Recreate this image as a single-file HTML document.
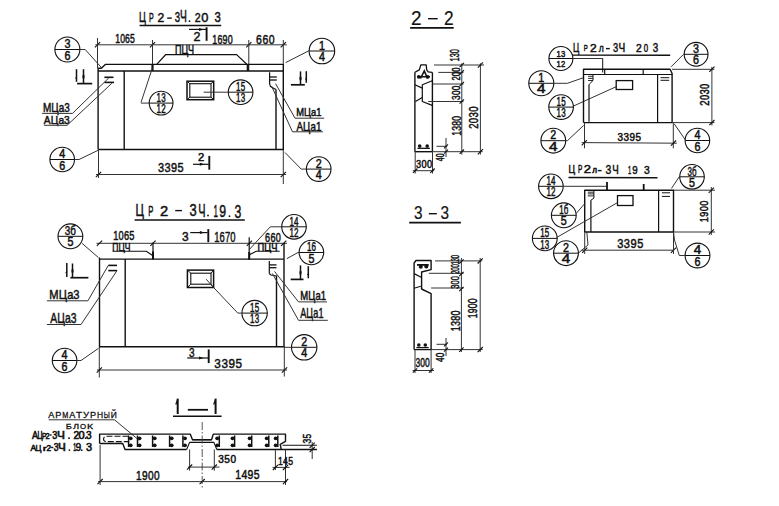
<!DOCTYPE html>
<html><head><meta charset="utf-8"><style>
html,body{margin:0;padding:0;background:#fff;}
svg{display:block;}
text{font-family:"Liberation Sans",sans-serif;}
</style></head><body>
<svg width="779" height="506" viewBox="0 0 779 506">
<rect width="779" height="506" fill="#fff"/>
<text x="138.92" y="21.50" font-size="14.49" font-weight="normal" textLength="6.86" lengthAdjust="spacingAndGlyphs" fill="#111" stroke="#111" stroke-width="0.5">Ц</text>
<text x="149.11" y="22.00" font-size="12.32" font-weight="normal" textLength="4.69" lengthAdjust="spacingAndGlyphs" fill="#111" stroke="#111" stroke-width="0.5">Р</text>
<text x="157.47" y="22.00" font-size="13.19" font-weight="normal" textLength="6.76" lengthAdjust="spacingAndGlyphs" fill="#111" stroke="#111" stroke-width="0.5">2</text>
<line x1="167.2" y1="18.1" x2="171.8" y2="18.1" stroke="#111" stroke-width="1.4"/>
<text x="174.69" y="22.00" font-size="15.22" font-weight="normal" textLength="5.32" lengthAdjust="spacingAndGlyphs" fill="#111" stroke="#111" stroke-width="0.5">3</text>
<text x="180.12" y="22.20" font-size="16.96" font-weight="normal" textLength="6.86" lengthAdjust="spacingAndGlyphs" fill="#111" stroke="#111" stroke-width="0.5">Ч</text>
<circle cx="189.5" cy="21.2" r="0.9" fill="#111"/>
<text x="194.76" y="21.80" font-size="13.48" font-weight="normal" textLength="5.88" lengthAdjust="spacingAndGlyphs" fill="#111" stroke="#111" stroke-width="0.5">2</text>
<text x="201.18" y="21.80" font-size="13.04" font-weight="normal" textLength="7.14" lengthAdjust="spacingAndGlyphs" fill="#111" stroke="#111" stroke-width="0.5">0</text>
<text x="214.60" y="21.80" font-size="14.93" font-weight="normal" textLength="6.29" lengthAdjust="spacingAndGlyphs" fill="#111" stroke="#111" stroke-width="0.5">3</text>
<line x1="139.6" y1="25.5" x2="221.2" y2="25.5" stroke="#111" stroke-width="1.6"/>
<line x1="189.0" y1="29.4" x2="206.6" y2="29.4" stroke="#111" stroke-width="1.2"/>
<line x1="206.6" y1="27.3" x2="206.6" y2="40.8" stroke="#111" stroke-width="1.9"/>
<polygon points="199.0,28.0 203.8,29.5 199.0,31.0" fill="#111"/>
<text x="193.57" y="40.80" font-size="13.19" font-weight="normal" textLength="6.96" lengthAdjust="spacingAndGlyphs" fill="#111" stroke="#111" stroke-width="0.5">2</text>
<line x1="95.4" y1="44.8" x2="286.8" y2="44.8" stroke="#333" stroke-width="1.0"/>
<line x1="94.9" y1="47.4" x2="100.1" y2="42.2" stroke="#111" stroke-width="1.1"/>
<line x1="149.9" y1="47.4" x2="155.1" y2="42.2" stroke="#111" stroke-width="1.1"/>
<line x1="246.2" y1="47.4" x2="251.4" y2="42.2" stroke="#111" stroke-width="1.1"/>
<line x1="280.7" y1="47.4" x2="285.9" y2="42.2" stroke="#111" stroke-width="1.1"/>
<line x1="97.5" y1="38.0" x2="97.5" y2="68.0" stroke="#333" stroke-width="1.0"/>
<line x1="152.5" y1="40.0" x2="152.5" y2="66.0" stroke="#333" stroke-width="1.0"/>
<line x1="248.8" y1="40.0" x2="248.8" y2="71.0" stroke="#333" stroke-width="1.0"/>
<line x1="283.3" y1="40.0" x2="283.3" y2="64.0" stroke="#333" stroke-width="1.0"/>
<text x="115.29" y="42.60" font-size="12.75" font-weight="normal" textLength="4.80" lengthAdjust="spacingAndGlyphs" fill="#111" stroke="#111" stroke-width="0.5">1</text>
<text x="120.20" y="42.60" font-size="12.75" font-weight="normal" textLength="4.80" lengthAdjust="spacingAndGlyphs" fill="#111" stroke="#111" stroke-width="0.5">0</text>
<text x="125.11" y="42.60" font-size="12.75" font-weight="normal" textLength="4.80" lengthAdjust="spacingAndGlyphs" fill="#111" stroke="#111" stroke-width="0.5">6</text>
<text x="130.01" y="42.60" font-size="12.75" font-weight="normal" textLength="4.80" lengthAdjust="spacingAndGlyphs" fill="#111" stroke="#111" stroke-width="0.5">5</text>
<text x="212.30" y="43.50" font-size="12.61" font-weight="normal" textLength="4.97" lengthAdjust="spacingAndGlyphs" fill="#111" stroke="#111" stroke-width="0.5">1</text>
<text x="217.44" y="43.50" font-size="12.61" font-weight="normal" textLength="4.97" lengthAdjust="spacingAndGlyphs" fill="#111" stroke="#111" stroke-width="0.5">6</text>
<text x="222.59" y="43.50" font-size="12.61" font-weight="normal" textLength="4.97" lengthAdjust="spacingAndGlyphs" fill="#111" stroke="#111" stroke-width="0.5">9</text>
<text x="227.74" y="43.50" font-size="12.61" font-weight="normal" textLength="4.97" lengthAdjust="spacingAndGlyphs" fill="#111" stroke="#111" stroke-width="0.5">0</text>
<text x="256.10" y="43.50" font-size="12.61" font-weight="normal" textLength="5.84" lengthAdjust="spacingAndGlyphs" fill="#111" stroke="#111" stroke-width="0.5">6</text>
<text x="262.38" y="43.50" font-size="12.61" font-weight="normal" textLength="5.84" lengthAdjust="spacingAndGlyphs" fill="#111" stroke="#111" stroke-width="0.5">6</text>
<text x="268.66" y="43.50" font-size="12.61" font-weight="normal" textLength="5.84" lengthAdjust="spacingAndGlyphs" fill="#111" stroke="#111" stroke-width="0.5">0</text>
<circle cx="67.4" cy="49.5" r="12.5" fill="none" stroke="#111" stroke-width="1.1"/>
<line x1="54.9" y1="49.5" x2="79.9" y2="49.5" stroke="#111" stroke-width="1.0"/>
<line x1="79.9" y1="49.5" x2="85.2" y2="49.5" stroke="#333" stroke-width="1.0"/>
<text x="64.41" y="48.20" font-size="12.17" font-weight="normal" textLength="5.97" lengthAdjust="spacingAndGlyphs" fill="#111" stroke="#111" stroke-width="0.5">3</text>
<text x="64.41" y="59.60" font-size="12.17" font-weight="normal" textLength="5.97" lengthAdjust="spacingAndGlyphs" fill="#111" stroke="#111" stroke-width="0.5">6</text>
<line x1="85.2" y1="49.5" x2="101.4" y2="67.6" stroke="#333" stroke-width="1.0"/>
<polyline points="98.0,68.2 101.4,68.2 105.3,64.4 283.3,64.4" fill="none" stroke="#111" stroke-width="1.4" stroke-linejoin="round"/>
<line x1="98.0" y1="71.0" x2="283.3" y2="71.0" stroke="#111" stroke-width="1.4"/>
<line x1="98.1" y1="68.0" x2="98.1" y2="149.5" stroke="#111" stroke-width="1.4"/>
<line x1="283.3" y1="64.0" x2="283.3" y2="150.1" stroke="#111" stroke-width="1.4"/>
<line x1="98.0" y1="149.5" x2="283.3" y2="149.5" stroke="#111" stroke-width="1.5"/>
<polyline points="156.7,64.3 165.8,54.5 236.6,54.6 246.8,64.3" fill="none" stroke="#111" stroke-width="1.2" stroke-linejoin="round"/>
<text x="174.92" y="54.20" font-size="12.03" font-weight="normal" textLength="19.26" lengthAdjust="spacingAndGlyphs" fill="#111" stroke="#111" stroke-width="0.5">ПЦЧ</text>
<line x1="152.5" y1="64.0" x2="152.5" y2="71.0" stroke="#111" stroke-width="2.2"/>
<line x1="247.8" y1="64.0" x2="247.8" y2="71.0" stroke="#111" stroke-width="2.2"/>
<line x1="124.2" y1="71.0" x2="124.2" y2="149.5" stroke="#111" stroke-width="1.4"/>
<line x1="276.0" y1="89.6" x2="276.0" y2="150.0" stroke="#111" stroke-width="1.4"/>
<line x1="104.4" y1="77.3" x2="113.5" y2="77.3" stroke="#111" stroke-width="1.6"/>
<line x1="104.4" y1="82.4" x2="114.0" y2="82.4" stroke="#111" stroke-width="1.6"/>
<line x1="108.8" y1="77.9" x2="72.5" y2="113.4" stroke="#333" stroke-width="1.0"/>
<line x1="111.8" y1="83.3" x2="67.1" y2="125.3" stroke="#333" stroke-width="1.0"/>
<text x="42.91" y="112.00" font-size="12.32" font-weight="normal" textLength="26.89" lengthAdjust="spacingAndGlyphs" fill="#111" stroke="#111" stroke-width="0.5">МЦа3</text>
<line x1="42.1" y1="113.4" x2="72.5" y2="113.4" stroke="#333" stroke-width="1.0"/>
<text x="43.84" y="124.00" font-size="11.45" font-weight="normal" textLength="25.92" lengthAdjust="spacingAndGlyphs" fill="#111" stroke="#111" stroke-width="0.5">АЦа3</text>
<line x1="44.0" y1="125.3" x2="67.1" y2="125.3" stroke="#333" stroke-width="1.0"/>
<line x1="76.5" y1="69.2" x2="76.5" y2="81.8" stroke="#111" stroke-width="1.5"/>
<line x1="76.5" y1="77.0" x2="75.2" y2="78.3" stroke="#111" stroke-width="1.0"/>
<line x1="83.5" y1="69.2" x2="83.5" y2="83.6" stroke="#111" stroke-width="1.5"/>
<ellipse cx="83.5" cy="76.7" rx="1.1" ry="2.2" fill="#111"/>
<line x1="77.1" y1="83.6" x2="92.2" y2="83.6" stroke="#111" stroke-width="1.7"/>
<line x1="152.3" y1="68.2" x2="141.0" y2="102.5" stroke="#333" stroke-width="1.0"/>
<circle cx="161.1" cy="103.1" r="11.9" fill="none" stroke="#111" stroke-width="1.1"/>
<line x1="149.2" y1="103.1" x2="173.0" y2="103.1" stroke="#111" stroke-width="1.0"/>
<line x1="141.0" y1="103.1" x2="149.2" y2="103.1" stroke="#333" stroke-width="1.0"/>
<text x="156.61" y="101.80" font-size="12.17" font-weight="normal" textLength="4.45" lengthAdjust="spacingAndGlyphs" fill="#111" stroke="#111" stroke-width="0.5">1</text>
<text x="161.13" y="101.80" font-size="12.17" font-weight="normal" textLength="4.45" lengthAdjust="spacingAndGlyphs" fill="#111" stroke="#111" stroke-width="0.5">3</text>
<text x="156.61" y="113.20" font-size="12.17" font-weight="normal" textLength="4.45" lengthAdjust="spacingAndGlyphs" fill="#111" stroke="#111" stroke-width="0.5">1</text>
<text x="161.13" y="113.20" font-size="12.17" font-weight="normal" textLength="4.45" lengthAdjust="spacingAndGlyphs" fill="#111" stroke="#111" stroke-width="0.5">2</text>
<rect x="187.0" y="81.2" width="26.7" height="18.5" fill="none" stroke="#111" stroke-width="1.5"/>
<rect x="189.8" y="83.7" width="21.2" height="13.5" fill="none" stroke="#111" stroke-width="1.1"/>
<line x1="187.0" y1="81.2" x2="189.8" y2="83.7" stroke="#111" stroke-width="1.0"/>
<line x1="213.7" y1="81.2" x2="211.0" y2="83.7" stroke="#111" stroke-width="1.0"/>
<line x1="187.0" y1="99.7" x2="189.8" y2="97.2" stroke="#111" stroke-width="1.0"/>
<line x1="213.7" y1="99.7" x2="211.0" y2="97.2" stroke="#111" stroke-width="1.0"/>
<circle cx="240.6" cy="92.2" r="12.3" fill="none" stroke="#111" stroke-width="1.1"/>
<line x1="228.3" y1="92.2" x2="252.9" y2="92.2" stroke="#111" stroke-width="1.0"/>
<line x1="203.7" y1="92.2" x2="228.3" y2="92.2" stroke="#333" stroke-width="1.0"/>
<text x="236.11" y="90.90" font-size="12.17" font-weight="normal" textLength="4.45" lengthAdjust="spacingAndGlyphs" fill="#111" stroke="#111" stroke-width="0.5">1</text>
<text x="240.63" y="90.90" font-size="12.17" font-weight="normal" textLength="4.45" lengthAdjust="spacingAndGlyphs" fill="#111" stroke="#111" stroke-width="0.5">5</text>
<text x="236.11" y="102.30" font-size="12.17" font-weight="normal" textLength="4.45" lengthAdjust="spacingAndGlyphs" fill="#111" stroke="#111" stroke-width="0.5">1</text>
<text x="240.63" y="102.30" font-size="12.17" font-weight="normal" textLength="4.45" lengthAdjust="spacingAndGlyphs" fill="#111" stroke="#111" stroke-width="0.5">3</text>
<line x1="269.6" y1="77.0" x2="276.8" y2="77.0" stroke="#111" stroke-width="1.3"/>
<line x1="269.6" y1="80.0" x2="276.8" y2="80.0" stroke="#111" stroke-width="1.3"/>
<line x1="269.6" y1="72.3" x2="269.6" y2="84.0" stroke="#111" stroke-width="1.2"/>
<polyline points="269.6,84.0 270.5,86.5 274.0,88.5 276.0,89.6" fill="none" stroke="#111" stroke-width="1.1" stroke-linejoin="round"/>
<line x1="275.6" y1="83.7" x2="295.0" y2="118.2" stroke="#333" stroke-width="1.0"/>
<line x1="271.5" y1="86.0" x2="292.5" y2="131.8" stroke="#333" stroke-width="1.0"/>
<text x="296.18" y="116.30" font-size="10.58" font-weight="normal" textLength="25.25" lengthAdjust="spacingAndGlyphs" fill="#111" stroke="#111" stroke-width="0.5">МЦа1</text>
<line x1="295.0" y1="118.2" x2="324.2" y2="118.2" stroke="#333" stroke-width="1.0"/>
<text x="296.52" y="130.60" font-size="11.88" font-weight="normal" textLength="24.95" lengthAdjust="spacingAndGlyphs" fill="#111" stroke="#111" stroke-width="0.5">АЦа1</text>
<line x1="292.5" y1="131.8" x2="322.9" y2="131.8" stroke="#333" stroke-width="1.0"/>
<line x1="306.3" y1="71.2" x2="306.3" y2="82.7" stroke="#111" stroke-width="1.5"/>
<line x1="306.3" y1="78.3" x2="305.0" y2="79.5" stroke="#111" stroke-width="1.0"/>
<line x1="300.5" y1="71.4" x2="300.5" y2="84.8" stroke="#111" stroke-width="1.5"/>
<ellipse cx="300.5" cy="78.4" rx="1.1" ry="2.2" fill="#111"/>
<line x1="290.9" y1="84.8" x2="304.8" y2="84.8" stroke="#111" stroke-width="1.7"/>
<circle cx="321.9" cy="51.0" r="12.8" fill="none" stroke="#111" stroke-width="1.1"/>
<line x1="309.1" y1="51.0" x2="334.7" y2="51.0" stroke="#111" stroke-width="1.0"/>
<line x1="308.3" y1="51.0" x2="309.1" y2="51.0" stroke="#333" stroke-width="1.0"/>
<text x="318.91" y="49.70" font-size="12.17" font-weight="normal" textLength="5.97" lengthAdjust="spacingAndGlyphs" fill="#111" stroke="#111" stroke-width="0.5">1</text>
<text x="318.91" y="61.10" font-size="12.17" font-weight="normal" textLength="5.97" lengthAdjust="spacingAndGlyphs" fill="#111" stroke="#111" stroke-width="0.5">4</text>
<line x1="308.3" y1="51.0" x2="285.7" y2="62.6" stroke="#333" stroke-width="1.0"/>
<circle cx="62.2" cy="159.5" r="12.3" fill="none" stroke="#111" stroke-width="1.1"/>
<line x1="49.9" y1="159.5" x2="74.5" y2="159.5" stroke="#111" stroke-width="1.0"/>
<line x1="74.5" y1="159.5" x2="79.0" y2="159.5" stroke="#333" stroke-width="1.0"/>
<text x="59.21" y="158.20" font-size="12.17" font-weight="normal" textLength="5.97" lengthAdjust="spacingAndGlyphs" fill="#111" stroke="#111" stroke-width="0.5">4</text>
<text x="59.21" y="169.60" font-size="12.17" font-weight="normal" textLength="5.97" lengthAdjust="spacingAndGlyphs" fill="#111" stroke="#111" stroke-width="0.5">6</text>
<line x1="79.0" y1="159.5" x2="98.1" y2="150.3" stroke="#333" stroke-width="1.0"/>
<circle cx="318.7" cy="169.1" r="12.3" fill="none" stroke="#111" stroke-width="1.1"/>
<line x1="306.4" y1="169.1" x2="331.0" y2="169.1" stroke="#111" stroke-width="1.0"/>
<line x1="301.2" y1="169.1" x2="306.4" y2="169.1" stroke="#333" stroke-width="1.0"/>
<text x="315.71" y="167.80" font-size="12.17" font-weight="normal" textLength="5.97" lengthAdjust="spacingAndGlyphs" fill="#111" stroke="#111" stroke-width="0.5">2</text>
<text x="315.71" y="179.20" font-size="12.17" font-weight="normal" textLength="5.97" lengthAdjust="spacingAndGlyphs" fill="#111" stroke="#111" stroke-width="0.5">4</text>
<line x1="301.2" y1="169.1" x2="285.0" y2="152.5" stroke="#333" stroke-width="1.0"/>
<text x="197.97" y="160.80" font-size="10.72" font-weight="normal" textLength="6.26" lengthAdjust="spacingAndGlyphs" fill="#111" stroke="#111" stroke-width="0.5">2</text>
<line x1="193.0" y1="164.3" x2="208.8" y2="164.3" stroke="#111" stroke-width="1.2"/>
<line x1="209.3" y1="155.9" x2="209.3" y2="169.7" stroke="#111" stroke-width="1.9"/>
<polygon points="199.8,162.8 204.4,164.3 199.8,165.8" fill="#111"/>
<text x="157.97" y="171.80" font-size="13.33" font-weight="normal" textLength="6.09" lengthAdjust="spacingAndGlyphs" fill="#111" stroke="#111" stroke-width="0.5">3</text>
<text x="164.49" y="171.80" font-size="13.33" font-weight="normal" textLength="6.09" lengthAdjust="spacingAndGlyphs" fill="#111" stroke="#111" stroke-width="0.5">3</text>
<text x="171.02" y="171.80" font-size="13.33" font-weight="normal" textLength="6.09" lengthAdjust="spacingAndGlyphs" fill="#111" stroke="#111" stroke-width="0.5">9</text>
<text x="177.55" y="171.80" font-size="13.33" font-weight="normal" textLength="6.09" lengthAdjust="spacingAndGlyphs" fill="#111" stroke="#111" stroke-width="0.5">5</text>
<line x1="96.0" y1="174.5" x2="286.0" y2="174.5" stroke="#333" stroke-width="1.0"/>
<line x1="95.9" y1="177.1" x2="101.1" y2="171.9" stroke="#111" stroke-width="1.1"/>
<line x1="280.7" y1="177.1" x2="285.9" y2="171.9" stroke="#111" stroke-width="1.1"/>
<line x1="98.5" y1="149.0" x2="98.5" y2="178.0" stroke="#333" stroke-width="1.0"/>
<line x1="283.3" y1="150.0" x2="283.3" y2="184.0" stroke="#333" stroke-width="1.0"/>
<text x="135.43" y="215.80" font-size="16.81" font-weight="normal" textLength="8.44" lengthAdjust="spacingAndGlyphs" fill="#111" stroke="#111" stroke-width="0.5">Ц</text>
<text x="148.24" y="215.80" font-size="14.06" font-weight="normal" textLength="5.12" lengthAdjust="spacingAndGlyphs" fill="#111" stroke="#111" stroke-width="0.5">Р</text>
<text x="160.10" y="215.80" font-size="15.07" font-weight="normal" textLength="8.21" lengthAdjust="spacingAndGlyphs" fill="#111" stroke="#111" stroke-width="0.5">2</text>
<line x1="175.2" y1="210.6" x2="181.9" y2="210.6" stroke="#111" stroke-width="1.4"/>
<text x="189.50" y="216.30" font-size="17.39" font-weight="normal" textLength="7.19" lengthAdjust="spacingAndGlyphs" fill="#111" stroke="#111" stroke-width="0.5">3</text>
<text x="198.35" y="216.60" font-size="18.70" font-weight="normal" textLength="7.30" lengthAdjust="spacingAndGlyphs" fill="#111" stroke="#111" stroke-width="0.5">Ч</text>
<circle cx="208.0" cy="215.5" r="0.9" fill="#111"/>
<text x="213.41" y="217.40" font-size="17.25" font-weight="normal" textLength="4.48" lengthAdjust="spacingAndGlyphs" fill="#111" stroke="#111" stroke-width="0.5">1</text>
<text x="219.21" y="217.40" font-size="17.25" font-weight="normal" textLength="6.78" lengthAdjust="spacingAndGlyphs" fill="#111" stroke="#111" stroke-width="0.5">9</text>
<circle cx="229.5" cy="216.2" r="0.9" fill="#111"/>
<text x="234.60" y="217.60" font-size="17.54" font-weight="normal" textLength="6.80" lengthAdjust="spacingAndGlyphs" fill="#111" stroke="#111" stroke-width="0.5">3</text>
<line x1="134.6" y1="220.0" x2="244.8" y2="220.0" stroke="#111" stroke-width="1.6"/>
<line x1="190.3" y1="232.6" x2="207.5" y2="232.6" stroke="#111" stroke-width="1.2"/>
<line x1="208.3" y1="229.1" x2="208.3" y2="242.2" stroke="#111" stroke-width="1.9"/>
<polygon points="199.9,231.1 204.5,232.6 199.9,234.1" fill="#111"/>
<text x="181.99" y="240.50" font-size="12.75" font-weight="normal" textLength="6.62" lengthAdjust="spacingAndGlyphs" fill="#111" stroke="#111" stroke-width="0.5">3</text>
<line x1="96.5" y1="243.3" x2="287.0" y2="243.3" stroke="#333" stroke-width="1.0"/>
<line x1="96.9" y1="245.9" x2="102.1" y2="240.7" stroke="#111" stroke-width="1.1"/>
<line x1="150.4" y1="245.9" x2="155.6" y2="240.7" stroke="#111" stroke-width="1.1"/>
<line x1="246.8" y1="245.9" x2="252.0" y2="240.7" stroke="#111" stroke-width="1.1"/>
<line x1="281.1" y1="245.9" x2="286.3" y2="240.7" stroke="#111" stroke-width="1.1"/>
<text x="113.27" y="240.40" font-size="13.19" font-weight="normal" textLength="5.14" lengthAdjust="spacingAndGlyphs" fill="#111" stroke="#111" stroke-width="0.5">1</text>
<text x="118.58" y="240.40" font-size="13.19" font-weight="normal" textLength="5.14" lengthAdjust="spacingAndGlyphs" fill="#111" stroke="#111" stroke-width="0.5">0</text>
<text x="123.88" y="240.40" font-size="13.19" font-weight="normal" textLength="5.14" lengthAdjust="spacingAndGlyphs" fill="#111" stroke="#111" stroke-width="0.5">6</text>
<text x="129.19" y="240.40" font-size="13.19" font-weight="normal" textLength="5.14" lengthAdjust="spacingAndGlyphs" fill="#111" stroke="#111" stroke-width="0.5">5</text>
<text x="214.24" y="242.20" font-size="13.91" font-weight="normal" textLength="5.24" lengthAdjust="spacingAndGlyphs" fill="#111" stroke="#111" stroke-width="0.5">1</text>
<text x="219.60" y="242.20" font-size="13.91" font-weight="normal" textLength="5.24" lengthAdjust="spacingAndGlyphs" fill="#111" stroke="#111" stroke-width="0.5">6</text>
<text x="224.96" y="242.20" font-size="13.91" font-weight="normal" textLength="5.24" lengthAdjust="spacingAndGlyphs" fill="#111" stroke="#111" stroke-width="0.5">7</text>
<text x="230.32" y="242.20" font-size="13.91" font-weight="normal" textLength="5.24" lengthAdjust="spacingAndGlyphs" fill="#111" stroke="#111" stroke-width="0.5">0</text>
<text x="265.11" y="242.20" font-size="12.17" font-weight="normal" textLength="5.06" lengthAdjust="spacingAndGlyphs" fill="#111" stroke="#111" stroke-width="0.5">6</text>
<text x="270.42" y="242.20" font-size="12.17" font-weight="normal" textLength="5.06" lengthAdjust="spacingAndGlyphs" fill="#111" stroke="#111" stroke-width="0.5">6</text>
<text x="275.73" y="242.20" font-size="12.17" font-weight="normal" textLength="5.06" lengthAdjust="spacingAndGlyphs" fill="#111" stroke="#111" stroke-width="0.5">0</text>
<text x="112.36" y="250.90" font-size="11.01" font-weight="normal" textLength="18.08" lengthAdjust="spacingAndGlyphs" fill="#111" stroke="#111" stroke-width="0.5">ПЦЧ</text>
<polyline points="112.5,251.3 146.3,251.3 152.6,255.5" fill="none" stroke="#111" stroke-width="1.1" stroke-linejoin="round"/>
<line x1="153.0" y1="242.5" x2="153.0" y2="259.2" stroke="#111" stroke-width="1.2"/>
<line x1="153.0" y1="251.5" x2="153.0" y2="259.2" stroke="#111" stroke-width="2.0"/>
<text x="257.58" y="250.90" font-size="10.58" font-weight="normal" textLength="19.85" lengthAdjust="spacingAndGlyphs" fill="#111" stroke="#111" stroke-width="0.5">ПЦЧ</text>
<polyline points="249.5,254.7 256.3,251.2 279.7,251.2" fill="none" stroke="#111" stroke-width="1.1" stroke-linejoin="round"/>
<line x1="249.2" y1="237.3" x2="249.2" y2="259.6" stroke="#111" stroke-width="1.2"/>
<line x1="249.2" y1="252.0" x2="249.2" y2="259.6" stroke="#111" stroke-width="2.0"/>
<circle cx="70.4" cy="236.3" r="12.4" fill="none" stroke="#111" stroke-width="1.1"/>
<line x1="58.0" y1="236.3" x2="82.8" y2="236.3" stroke="#111" stroke-width="1.0"/>
<text x="64.81" y="235.00" font-size="12.17" font-weight="normal" textLength="11.17" lengthAdjust="spacingAndGlyphs" fill="#111" stroke="#111" stroke-width="0.5">3б</text>
<text x="67.41" y="246.40" font-size="12.17" font-weight="normal" textLength="5.97" lengthAdjust="spacingAndGlyphs" fill="#111" stroke="#111" stroke-width="0.5">5</text>
<line x1="82.0" y1="243.3" x2="98.5" y2="257.6" stroke="#333" stroke-width="1.0"/>
<circle cx="294.0" cy="226.8" r="12.3" fill="none" stroke="#111" stroke-width="1.1"/>
<line x1="281.7" y1="226.8" x2="306.3" y2="226.8" stroke="#111" stroke-width="1.0"/>
<line x1="270.3" y1="226.8" x2="281.7" y2="226.8" stroke="#333" stroke-width="1.0"/>
<text x="289.51" y="225.50" font-size="12.17" font-weight="normal" textLength="4.45" lengthAdjust="spacingAndGlyphs" fill="#111" stroke="#111" stroke-width="0.5">1</text>
<text x="294.03" y="225.50" font-size="12.17" font-weight="normal" textLength="4.45" lengthAdjust="spacingAndGlyphs" fill="#111" stroke="#111" stroke-width="0.5">4</text>
<text x="289.51" y="236.90" font-size="12.17" font-weight="normal" textLength="4.45" lengthAdjust="spacingAndGlyphs" fill="#111" stroke="#111" stroke-width="0.5">1</text>
<text x="294.03" y="236.90" font-size="12.17" font-weight="normal" textLength="4.45" lengthAdjust="spacingAndGlyphs" fill="#111" stroke="#111" stroke-width="0.5">2</text>
<line x1="270.3" y1="226.8" x2="249.4" y2="249.4" stroke="#333" stroke-width="1.0"/>
<circle cx="311.4" cy="252.5" r="12.3" fill="none" stroke="#111" stroke-width="1.1"/>
<line x1="299.1" y1="252.5" x2="323.7" y2="252.5" stroke="#111" stroke-width="1.0"/>
<line x1="298.0" y1="252.5" x2="299.1" y2="252.5" stroke="#333" stroke-width="1.0"/>
<text x="306.91" y="251.20" font-size="12.17" font-weight="normal" textLength="4.45" lengthAdjust="spacingAndGlyphs" fill="#111" stroke="#111" stroke-width="0.5">1</text>
<text x="311.43" y="251.20" font-size="12.17" font-weight="normal" textLength="4.45" lengthAdjust="spacingAndGlyphs" fill="#111" stroke="#111" stroke-width="0.5">6</text>
<text x="308.41" y="262.60" font-size="12.17" font-weight="normal" textLength="5.97" lengthAdjust="spacingAndGlyphs" fill="#111" stroke="#111" stroke-width="0.5">5</text>
<line x1="298.0" y1="252.5" x2="286.8" y2="258.7" stroke="#333" stroke-width="1.0"/>
<line x1="99.5" y1="259.1" x2="283.7" y2="259.1" stroke="#111" stroke-width="1.4"/>
<line x1="99.5" y1="257.6" x2="99.5" y2="346.7" stroke="#111" stroke-width="1.4"/>
<line x1="99.3" y1="346.7" x2="99.3" y2="377.5" stroke="#333" stroke-width="1.0"/>
<line x1="284.0" y1="243.0" x2="284.0" y2="347.0" stroke="#111" stroke-width="1.4"/>
<line x1="284.3" y1="347.0" x2="284.3" y2="376.5" stroke="#333" stroke-width="1.0"/>
<line x1="99.0" y1="346.7" x2="284.5" y2="346.7" stroke="#111" stroke-width="1.5"/>
<line x1="125.2" y1="259.0" x2="125.2" y2="346.5" stroke="#111" stroke-width="1.4"/>
<line x1="276.5" y1="275.5" x2="276.5" y2="347.0" stroke="#111" stroke-width="1.4"/>
<line x1="108.3" y1="265.4" x2="117.0" y2="265.4" stroke="#111" stroke-width="1.6"/>
<line x1="108.3" y1="270.6" x2="117.0" y2="270.6" stroke="#111" stroke-width="1.6"/>
<line x1="108.3" y1="265.4" x2="87.9" y2="300.8" stroke="#333" stroke-width="1.0"/>
<line x1="117.0" y1="270.6" x2="81.0" y2="324.5" stroke="#333" stroke-width="1.0"/>
<line x1="66.8" y1="263.1" x2="66.8" y2="277.0" stroke="#111" stroke-width="1.5"/>
<line x1="66.8" y1="271.7" x2="65.5" y2="273.1" stroke="#111" stroke-width="1.0"/>
<line x1="72.5" y1="263.5" x2="72.5" y2="277.7" stroke="#111" stroke-width="1.5"/>
<ellipse cx="72.5" cy="270.9" rx="1.1" ry="2.2" fill="#111"/>
<line x1="70.4" y1="277.7" x2="88.4" y2="277.7" stroke="#111" stroke-width="1.7"/>
<text x="49.36" y="299.30" font-size="13.62" font-weight="normal" textLength="30.19" lengthAdjust="spacingAndGlyphs" fill="#111" stroke="#111" stroke-width="0.5">МЦа3</text>
<line x1="46.9" y1="300.8" x2="87.9" y2="300.8" stroke="#333" stroke-width="1.0"/>
<text x="50.33" y="323.00" font-size="14.35" font-weight="normal" textLength="26.25" lengthAdjust="spacingAndGlyphs" fill="#111" stroke="#111" stroke-width="0.5">АЦа3</text>
<line x1="46.9" y1="324.5" x2="81.0" y2="324.5" stroke="#333" stroke-width="1.0"/>
<rect x="187.4" y="270.1" width="26.2" height="17.4" fill="none" stroke="#111" stroke-width="1.5"/>
<rect x="190.8" y="273.2" width="20.2" height="11.0" fill="none" stroke="#111" stroke-width="1.1"/>
<line x1="187.4" y1="270.1" x2="190.8" y2="273.2" stroke="#111" stroke-width="1.0"/>
<line x1="213.6" y1="270.1" x2="211.0" y2="273.2" stroke="#111" stroke-width="1.0"/>
<line x1="187.4" y1="287.5" x2="190.8" y2="284.2" stroke="#111" stroke-width="1.0"/>
<line x1="213.6" y1="287.5" x2="211.0" y2="284.2" stroke="#111" stroke-width="1.0"/>
<line x1="206.2" y1="279.2" x2="213.6" y2="287.5" stroke="#333" stroke-width="1.0"/>
<line x1="213.6" y1="287.5" x2="237.8" y2="313.1" stroke="#333" stroke-width="1.0"/>
<circle cx="254.6" cy="313.1" r="12.7" fill="none" stroke="#111" stroke-width="1.1"/>
<line x1="241.9" y1="313.1" x2="267.3" y2="313.1" stroke="#111" stroke-width="1.0"/>
<line x1="237.8" y1="313.1" x2="241.9" y2="313.1" stroke="#333" stroke-width="1.0"/>
<text x="250.11" y="311.80" font-size="12.17" font-weight="normal" textLength="4.45" lengthAdjust="spacingAndGlyphs" fill="#111" stroke="#111" stroke-width="0.5">1</text>
<text x="254.63" y="311.80" font-size="12.17" font-weight="normal" textLength="4.45" lengthAdjust="spacingAndGlyphs" fill="#111" stroke="#111" stroke-width="0.5">5</text>
<text x="250.11" y="323.20" font-size="12.17" font-weight="normal" textLength="4.45" lengthAdjust="spacingAndGlyphs" fill="#111" stroke="#111" stroke-width="0.5">1</text>
<text x="254.63" y="323.20" font-size="12.17" font-weight="normal" textLength="4.45" lengthAdjust="spacingAndGlyphs" fill="#111" stroke="#111" stroke-width="0.5">3</text>
<line x1="269.3" y1="264.9" x2="276.5" y2="264.9" stroke="#111" stroke-width="1.3"/>
<line x1="269.3" y1="267.7" x2="276.5" y2="267.7" stroke="#111" stroke-width="1.3"/>
<line x1="269.3" y1="261.0" x2="269.3" y2="273.5" stroke="#111" stroke-width="1.2"/>
<polyline points="269.3,273.5 271.0,275.0 276.5,276.0" fill="none" stroke="#111" stroke-width="1.1" stroke-linejoin="round"/>
<line x1="274.5" y1="271.4" x2="298.5" y2="301.9" stroke="#333" stroke-width="1.0"/>
<line x1="272.4" y1="273.5" x2="298.5" y2="320.3" stroke="#333" stroke-width="1.0"/>
<line x1="308.3" y1="266.2" x2="308.3" y2="278.3" stroke="#111" stroke-width="1.5"/>
<line x1="308.3" y1="273.7" x2="307.0" y2="274.9" stroke="#111" stroke-width="1.0"/>
<line x1="300.5" y1="265.4" x2="300.5" y2="279.4" stroke="#111" stroke-width="1.5"/>
<ellipse cx="300.5" cy="272.7" rx="1.1" ry="2.2" fill="#111"/>
<line x1="290.7" y1="279.4" x2="303.5" y2="279.4" stroke="#111" stroke-width="1.7"/>
<text x="300.32" y="300.00" font-size="11.88" font-weight="normal" textLength="25.65" lengthAdjust="spacingAndGlyphs" fill="#111" stroke="#111" stroke-width="0.5">МЦа1</text>
<line x1="298.5" y1="301.9" x2="327.0" y2="301.9" stroke="#333" stroke-width="1.0"/>
<text x="300.21" y="318.00" font-size="14.64" font-weight="normal" textLength="23.27" lengthAdjust="spacingAndGlyphs" fill="#111" stroke="#111" stroke-width="0.5">АЦа1</text>
<line x1="298.5" y1="320.3" x2="327.8" y2="320.3" stroke="#333" stroke-width="1.0"/>
<circle cx="64.6" cy="360.5" r="12.3" fill="none" stroke="#111" stroke-width="1.1"/>
<line x1="52.3" y1="360.5" x2="76.9" y2="360.5" stroke="#111" stroke-width="1.0"/>
<line x1="76.9" y1="360.5" x2="81.0" y2="360.5" stroke="#333" stroke-width="1.0"/>
<text x="61.61" y="359.20" font-size="12.17" font-weight="normal" textLength="5.97" lengthAdjust="spacingAndGlyphs" fill="#111" stroke="#111" stroke-width="0.5">4</text>
<text x="61.61" y="370.60" font-size="12.17" font-weight="normal" textLength="5.97" lengthAdjust="spacingAndGlyphs" fill="#111" stroke="#111" stroke-width="0.5">6</text>
<line x1="81.0" y1="360.5" x2="98.5" y2="348.3" stroke="#333" stroke-width="1.0"/>
<circle cx="304.2" cy="347.3" r="12.7" fill="none" stroke="#111" stroke-width="1.1"/>
<line x1="291.5" y1="347.3" x2="316.9" y2="347.3" stroke="#111" stroke-width="1.0"/>
<line x1="284.5" y1="347.3" x2="291.5" y2="347.3" stroke="#333" stroke-width="1.0"/>
<text x="301.21" y="346.00" font-size="12.17" font-weight="normal" textLength="5.97" lengthAdjust="spacingAndGlyphs" fill="#111" stroke="#111" stroke-width="0.5">2</text>
<text x="301.21" y="357.40" font-size="12.17" font-weight="normal" textLength="5.97" lengthAdjust="spacingAndGlyphs" fill="#111" stroke="#111" stroke-width="0.5">4</text>
<text x="188.96" y="356.90" font-size="13.62" font-weight="normal" textLength="5.59" lengthAdjust="spacingAndGlyphs" fill="#111" stroke="#111" stroke-width="0.5">3</text>
<line x1="187.2" y1="358.0" x2="208.7" y2="358.0" stroke="#111" stroke-width="1.2"/>
<line x1="208.7" y1="349.4" x2="208.7" y2="363.1" stroke="#111" stroke-width="1.9"/>
<polygon points="199.0,356.5 203.6,358.0 199.0,359.5" fill="#111"/>
<text x="214.36" y="368.30" font-size="13.48" font-weight="normal" textLength="6.53" lengthAdjust="spacingAndGlyphs" fill="#111" stroke="#111" stroke-width="0.5">3</text>
<text x="221.44" y="368.30" font-size="13.48" font-weight="normal" textLength="6.53" lengthAdjust="spacingAndGlyphs" fill="#111" stroke="#111" stroke-width="0.5">3</text>
<text x="228.53" y="368.30" font-size="13.48" font-weight="normal" textLength="6.53" lengthAdjust="spacingAndGlyphs" fill="#111" stroke="#111" stroke-width="0.5">9</text>
<text x="235.61" y="368.30" font-size="13.48" font-weight="normal" textLength="6.53" lengthAdjust="spacingAndGlyphs" fill="#111" stroke="#111" stroke-width="0.5">5</text>
<line x1="97.0" y1="370.0" x2="287.0" y2="370.0" stroke="#333" stroke-width="1.0"/>
<line x1="96.7" y1="372.6" x2="101.9" y2="367.4" stroke="#111" stroke-width="1.1"/>
<line x1="281.9" y1="372.6" x2="287.1" y2="367.4" stroke="#111" stroke-width="1.1"/>
<line x1="177.7" y1="398.6" x2="177.7" y2="414.0" stroke="#111" stroke-width="2.0"/>
<line x1="177.5" y1="400.0" x2="175.8" y2="404.5" stroke="#111" stroke-width="1.3"/>
<line x1="187.8" y1="409.8" x2="208.0" y2="409.8" stroke="#111" stroke-width="1.8"/>
<line x1="215.6" y1="398.6" x2="215.6" y2="414.0" stroke="#111" stroke-width="2.0"/>
<line x1="215.4" y1="400.0" x2="213.7" y2="404.5" stroke="#111" stroke-width="1.3"/>
<line x1="173.0" y1="416.3" x2="221.6" y2="416.3" stroke="#111" stroke-width="1.6"/>
<text x="48.32" y="417.90" font-size="9.42" font-weight="normal" textLength="6.09" lengthAdjust="spacingAndGlyphs" fill="#111" stroke="#111" stroke-width="0.3">А</text>
<text x="55.26" y="417.90" font-size="9.42" font-weight="normal" textLength="6.09" lengthAdjust="spacingAndGlyphs" fill="#111" stroke="#111" stroke-width="0.3">Р</text>
<text x="62.20" y="417.90" font-size="9.42" font-weight="normal" textLength="6.09" lengthAdjust="spacingAndGlyphs" fill="#111" stroke="#111" stroke-width="0.3">М</text>
<text x="69.14" y="417.90" font-size="9.42" font-weight="normal" textLength="6.09" lengthAdjust="spacingAndGlyphs" fill="#111" stroke="#111" stroke-width="0.3">А</text>
<text x="76.08" y="417.90" font-size="9.42" font-weight="normal" textLength="6.09" lengthAdjust="spacingAndGlyphs" fill="#111" stroke="#111" stroke-width="0.3">Т</text>
<text x="83.02" y="417.90" font-size="9.42" font-weight="normal" textLength="6.09" lengthAdjust="spacingAndGlyphs" fill="#111" stroke="#111" stroke-width="0.3">У</text>
<text x="89.96" y="417.90" font-size="9.42" font-weight="normal" textLength="6.09" lengthAdjust="spacingAndGlyphs" fill="#111" stroke="#111" stroke-width="0.3">Р</text>
<text x="96.90" y="417.90" font-size="9.42" font-weight="normal" textLength="6.09" lengthAdjust="spacingAndGlyphs" fill="#111" stroke="#111" stroke-width="0.3">Н</text>
<text x="103.84" y="417.90" font-size="9.42" font-weight="normal" textLength="6.09" lengthAdjust="spacingAndGlyphs" fill="#111" stroke="#111" stroke-width="0.3">Ы</text>
<text x="110.78" y="417.90" font-size="9.42" font-weight="normal" textLength="6.09" lengthAdjust="spacingAndGlyphs" fill="#111" stroke="#111" stroke-width="0.3">Й</text>
<line x1="48.7" y1="419.8" x2="114.5" y2="419.8" stroke="#333" stroke-width="1.0"/>
<line x1="114.5" y1="419.8" x2="139.1" y2="440.3" stroke="#333" stroke-width="1.0"/>
<text x="65.88" y="429.20" font-size="8.12" font-weight="normal" textLength="6.10" lengthAdjust="spacingAndGlyphs" fill="#111" stroke="#111" stroke-width="0.3">Б</text>
<text x="72.96" y="429.20" font-size="8.12" font-weight="normal" textLength="6.10" lengthAdjust="spacingAndGlyphs" fill="#111" stroke="#111" stroke-width="0.3">Л</text>
<text x="80.04" y="429.20" font-size="8.12" font-weight="normal" textLength="6.10" lengthAdjust="spacingAndGlyphs" fill="#111" stroke="#111" stroke-width="0.3">О</text>
<text x="87.13" y="429.20" font-size="8.12" font-weight="normal" textLength="6.10" lengthAdjust="spacingAndGlyphs" fill="#111" stroke="#111" stroke-width="0.3">К</text>
<text x="31.99" y="438.90" font-size="10.14" font-weight="normal" textLength="6.01" lengthAdjust="spacingAndGlyphs" fill="#111" stroke="#111" stroke-width="0.6">А</text>
<text x="37.39" y="438.90" font-size="10.14" font-weight="normal" textLength="5.01" lengthAdjust="spacingAndGlyphs" fill="#111" stroke="#111" stroke-width="0.6">Ц</text>
<text x="41.92" y="438.90" font-size="9.57" font-weight="normal" textLength="4.37" lengthAdjust="spacingAndGlyphs" fill="#111" stroke="#111" stroke-width="0.6">Р</text>
<text x="45.62" y="438.90" font-size="9.57" font-weight="normal" textLength="4.17" lengthAdjust="spacingAndGlyphs" fill="#111" stroke="#111" stroke-width="0.6">2</text>
<line x1="49.8" y1="435.0" x2="51.6" y2="435.0" stroke="#111" stroke-width="1.4"/>
<text x="52.19" y="438.90" font-size="10.14" font-weight="normal" textLength="5.01" lengthAdjust="spacingAndGlyphs" fill="#111" stroke="#111" stroke-width="0.6">3</text>
<text x="56.99" y="438.90" font-size="10.14" font-weight="normal" textLength="7.91" lengthAdjust="spacingAndGlyphs" fill="#111" stroke="#111" stroke-width="0.6">Ч</text>
<circle cx="69.0" cy="438.2" r="0.9" fill="#111"/>
<text x="73.39" y="438.90" font-size="10.14" font-weight="normal" textLength="5.61" lengthAdjust="spacingAndGlyphs" fill="#111" stroke="#111" stroke-width="0.6">2</text>
<text x="78.59" y="438.90" font-size="10.14" font-weight="normal" textLength="6.11" lengthAdjust="spacingAndGlyphs" fill="#111" stroke="#111" stroke-width="0.6">0</text>
<circle cx="85.6" cy="438.2" r="0.9" fill="#111"/>
<text x="86.09" y="438.90" font-size="10.14" font-weight="normal" textLength="5.61" lengthAdjust="spacingAndGlyphs" fill="#111" stroke="#111" stroke-width="0.6">3</text>
<text x="30.61" y="450.70" font-size="9.71" font-weight="normal" textLength="5.68" lengthAdjust="spacingAndGlyphs" fill="#111" stroke="#111" stroke-width="0.6">А</text>
<text x="35.61" y="450.70" font-size="9.71" font-weight="normal" textLength="5.88" lengthAdjust="spacingAndGlyphs" fill="#111" stroke="#111" stroke-width="0.6">Ц</text>
<text x="43.03" y="450.70" font-size="6.81" font-weight="normal" textLength="3.54" lengthAdjust="spacingAndGlyphs" fill="#111" stroke="#111" stroke-width="0.6">r</text>
<text x="46.43" y="450.70" font-size="9.28" font-weight="normal" textLength="4.64" lengthAdjust="spacingAndGlyphs" fill="#111" stroke="#111" stroke-width="0.6">2</text>
<line x1="51.1" y1="447.5" x2="53.3" y2="447.5" stroke="#111" stroke-width="1.4"/>
<text x="53.80" y="450.70" font-size="10.00" font-weight="normal" textLength="4.70" lengthAdjust="spacingAndGlyphs" fill="#111" stroke="#111" stroke-width="0.6">3</text>
<text x="58.10" y="450.70" font-size="10.00" font-weight="normal" textLength="7.80" lengthAdjust="spacingAndGlyphs" fill="#111" stroke="#111" stroke-width="0.6">Ч</text>
<circle cx="69.4" cy="450.1" r="0.9" fill="#111"/>
<text x="73.35" y="451.10" font-size="11.30" font-weight="normal" textLength="2.90" lengthAdjust="spacingAndGlyphs" fill="#111" stroke="#111" stroke-width="0.6">1</text>
<text x="75.55" y="451.10" font-size="11.30" font-weight="normal" textLength="5.70" lengthAdjust="spacingAndGlyphs" fill="#111" stroke="#111" stroke-width="0.6">9</text>
<circle cx="81.7" cy="450.2" r="0.9" fill="#111"/>
<text x="86.05" y="451.10" font-size="11.30" font-weight="normal" textLength="6.10" lengthAdjust="spacingAndGlyphs" fill="#111" stroke="#111" stroke-width="0.6">3</text>
<polyline points="99.6,443.5 99.6,434.1 190.2,434.1 192.5,439.8 211.5,439.8 213.3,434.1 285.5,434.1 285.5,441.3 280.2,444.3 281.3,449.6" fill="none" stroke="#111" stroke-width="1.4" stroke-linejoin="round"/>
<line x1="192.5" y1="439.8" x2="211.5" y2="439.8" stroke="#111" stroke-width="1.0"/>
<polyline points="99.6,443.5 122.7,443.5 125.0,449.5 186.6,449.5" fill="none" stroke="#111" stroke-width="1.4" stroke-linejoin="round"/>
<polyline points="186.6,449.5 189.6,442.4 213.9,442.4 216.8,449.5" fill="none" stroke="#111" stroke-width="1.1" stroke-linejoin="round"/>
<line x1="216.8" y1="449.5" x2="316.9" y2="449.5" stroke="#111" stroke-width="1.4"/>
<line x1="282.5" y1="445.3" x2="316.9" y2="445.3" stroke="#111" stroke-width="1.1"/>
<path d="M128.5,436.3 H106.2 a2.65,2.65 0 0 0 0,5.3 H128.5" fill="none" stroke="#111" stroke-width="1.1" stroke-dasharray="6,2"/>
<line x1="128.6" y1="435.5" x2="128.6" y2="447.0" stroke="#111" stroke-width="1.5"/>
<circle cx="130.7" cy="438.3" r="1.9" fill="#111"/>
<circle cx="130.7" cy="445.3" r="1.9" fill="#111"/>
<line x1="137.5" y1="435.5" x2="137.5" y2="447.0" stroke="#111" stroke-width="1.5"/>
<circle cx="139.6" cy="438.3" r="1.9" fill="#111"/>
<circle cx="139.6" cy="445.3" r="1.9" fill="#111"/>
<line x1="152.6" y1="435.5" x2="152.6" y2="447.0" stroke="#111" stroke-width="1.5"/>
<circle cx="154.7" cy="438.3" r="1.9" fill="#111"/>
<circle cx="154.7" cy="445.3" r="1.9" fill="#111"/>
<line x1="169.6" y1="435.5" x2="169.6" y2="447.0" stroke="#111" stroke-width="1.5"/>
<circle cx="171.7" cy="438.3" r="1.9" fill="#111"/>
<circle cx="171.7" cy="445.3" r="1.9" fill="#111"/>
<line x1="182.9" y1="435.5" x2="182.9" y2="447.0" stroke="#111" stroke-width="1.5"/>
<circle cx="185.0" cy="438.3" r="1.9" fill="#111"/>
<circle cx="185.0" cy="445.3" r="1.9" fill="#111"/>
<line x1="219.3" y1="435.5" x2="219.3" y2="447.0" stroke="#111" stroke-width="1.5"/>
<circle cx="217.2" cy="438.3" r="1.9" fill="#111"/>
<circle cx="217.2" cy="445.3" r="1.9" fill="#111"/>
<line x1="234.6" y1="435.5" x2="234.6" y2="447.0" stroke="#111" stroke-width="1.5"/>
<circle cx="232.5" cy="438.3" r="1.9" fill="#111"/>
<circle cx="232.5" cy="445.3" r="1.9" fill="#111"/>
<line x1="251.7" y1="435.5" x2="251.7" y2="447.0" stroke="#111" stroke-width="1.5"/>
<circle cx="249.6" cy="438.3" r="1.9" fill="#111"/>
<circle cx="249.6" cy="445.3" r="1.9" fill="#111"/>
<line x1="268.8" y1="435.5" x2="268.8" y2="447.0" stroke="#111" stroke-width="1.5"/>
<circle cx="266.7" cy="438.3" r="1.9" fill="#111"/>
<circle cx="266.7" cy="445.3" r="1.9" fill="#111"/>
<line x1="277.8" y1="435.5" x2="277.8" y2="447.0" stroke="#111" stroke-width="1.5"/>
<circle cx="275.7" cy="438.3" r="1.9" fill="#111"/>
<circle cx="275.7" cy="445.3" r="1.9" fill="#111"/>
<line x1="202.2" y1="422" x2="202.2" y2="488.5" stroke="#444" stroke-width="0.9" stroke-dasharray="8,2,1.5,2"/>
<line x1="189.6" y1="449.5" x2="189.6" y2="470.7" stroke="#333" stroke-width="1.0"/>
<line x1="214.3" y1="449.5" x2="214.3" y2="470.7" stroke="#333" stroke-width="1.0"/>
<line x1="188.0" y1="467.1" x2="219.5" y2="467.1" stroke="#333" stroke-width="1.0"/>
<line x1="187.0" y1="469.7" x2="192.2" y2="464.5" stroke="#111" stroke-width="1.1"/>
<line x1="211.7" y1="469.7" x2="216.9" y2="464.5" stroke="#111" stroke-width="1.1"/>
<text x="218.18" y="462.60" font-size="10.43" font-weight="normal" textLength="5.58" lengthAdjust="spacingAndGlyphs" fill="#111" stroke="#111" stroke-width="0.5">3</text>
<text x="224.36" y="462.60" font-size="10.43" font-weight="normal" textLength="5.58" lengthAdjust="spacingAndGlyphs" fill="#111" stroke="#111" stroke-width="0.5">5</text>
<text x="230.53" y="462.60" font-size="10.43" font-weight="normal" textLength="5.58" lengthAdjust="spacingAndGlyphs" fill="#111" stroke="#111" stroke-width="0.5">0</text>
<line x1="275.4" y1="449.5" x2="275.4" y2="470.0" stroke="#333" stroke-width="1.0"/>
<line x1="285.5" y1="449.5" x2="285.5" y2="485.0" stroke="#333" stroke-width="1.0"/>
<line x1="272.5" y1="467.4" x2="289.6" y2="467.4" stroke="#333" stroke-width="1.0"/>
<line x1="272.8" y1="470.0" x2="278.0" y2="464.8" stroke="#111" stroke-width="1.1"/>
<line x1="282.9" y1="470.0" x2="288.1" y2="464.8" stroke="#111" stroke-width="1.1"/>
<text x="277.97" y="465.00" font-size="10.87" font-weight="normal" textLength="4.81" lengthAdjust="spacingAndGlyphs" fill="#111" stroke="#111" stroke-width="0.5">1</text>
<text x="283.09" y="465.00" font-size="10.87" font-weight="normal" textLength="4.81" lengthAdjust="spacingAndGlyphs" fill="#111" stroke="#111" stroke-width="0.5">4</text>
<text x="288.22" y="465.00" font-size="10.87" font-weight="normal" textLength="4.81" lengthAdjust="spacingAndGlyphs" fill="#111" stroke="#111" stroke-width="0.5">5</text>
<line x1="98.0" y1="481.6" x2="202.2" y2="481.6" stroke="#333" stroke-width="1.0"/>
<line x1="97.5" y1="484.2" x2="102.7" y2="479.0" stroke="#111" stroke-width="1.1"/>
<line x1="199.6" y1="484.2" x2="204.8" y2="479.0" stroke="#111" stroke-width="1.1"/>
<line x1="100.1" y1="445.0" x2="100.1" y2="485.0" stroke="#333" stroke-width="1.0"/>
<text x="136.08" y="479.50" font-size="12.90" font-weight="normal" textLength="5.62" lengthAdjust="spacingAndGlyphs" fill="#111" stroke="#111" stroke-width="0.5">1</text>
<text x="142.05" y="479.50" font-size="12.90" font-weight="normal" textLength="5.62" lengthAdjust="spacingAndGlyphs" fill="#111" stroke="#111" stroke-width="0.5">9</text>
<text x="148.02" y="479.50" font-size="12.90" font-weight="normal" textLength="5.62" lengthAdjust="spacingAndGlyphs" fill="#111" stroke="#111" stroke-width="0.5">0</text>
<text x="153.99" y="479.50" font-size="12.90" font-weight="normal" textLength="5.62" lengthAdjust="spacingAndGlyphs" fill="#111" stroke="#111" stroke-width="0.5">0</text>
<line x1="202.2" y1="481.6" x2="287.0" y2="481.6" stroke="#333" stroke-width="1.0"/>
<line x1="282.9" y1="484.2" x2="288.1" y2="479.0" stroke="#111" stroke-width="1.1"/>
<text x="235.18" y="478.80" font-size="13.04" font-weight="normal" textLength="5.82" lengthAdjust="spacingAndGlyphs" fill="#111" stroke="#111" stroke-width="0.5">1</text>
<text x="241.39" y="478.80" font-size="13.04" font-weight="normal" textLength="5.82" lengthAdjust="spacingAndGlyphs" fill="#111" stroke="#111" stroke-width="0.5">4</text>
<text x="247.59" y="478.80" font-size="13.04" font-weight="normal" textLength="5.82" lengthAdjust="spacingAndGlyphs" fill="#111" stroke="#111" stroke-width="0.5">9</text>
<text x="253.80" y="478.80" font-size="13.04" font-weight="normal" textLength="5.82" lengthAdjust="spacingAndGlyphs" fill="#111" stroke="#111" stroke-width="0.5">5</text>
<line x1="312.2" y1="442.0" x2="312.2" y2="459.0" stroke="#333" stroke-width="1.0"/>
<line x1="309.6" y1="447.9" x2="314.8" y2="442.7" stroke="#111" stroke-width="1.1"/>
<line x1="309.6" y1="452.2" x2="314.8" y2="447.0" stroke="#111" stroke-width="1.1"/>
<text transform="translate(311.00,443.53) rotate(-90)" x="0" y="0" font-size="10.87" font-weight="normal" textLength="4.74" lengthAdjust="spacingAndGlyphs" fill="#111" stroke="#111" stroke-width="0.5">3</text>
<text transform="translate(311.00,438.50) rotate(-90)" x="0" y="0" font-size="10.87" font-weight="normal" textLength="4.74" lengthAdjust="spacingAndGlyphs" fill="#111" stroke="#111" stroke-width="0.5">5</text>
<text x="411.09" y="24.90" font-size="20.29" font-weight="normal" textLength="10.52" lengthAdjust="spacingAndGlyphs" fill="#111" stroke="#111" stroke-width="0.2">2</text>
<line x1="428.0" y1="18.7" x2="437.7" y2="18.7" stroke="#111" stroke-width="1.4"/>
<text x="443.99" y="24.90" font-size="20.29" font-weight="normal" textLength="9.62" lengthAdjust="spacingAndGlyphs" fill="#111" stroke="#111" stroke-width="0.2">2</text>
<line x1="410.1" y1="27.9" x2="453.7" y2="27.9" stroke="#111" stroke-width="1.6"/>
<polyline points="414.9,72.3 419.3,69.9 420.8,64.9 426.2,64.9 426.7,69.9 428.2,71.9 432.2,72.3" fill="none" stroke="#111" stroke-width="1.3" stroke-linejoin="round"/>
<line x1="414.9" y1="72.3" x2="414.9" y2="151.7" stroke="#111" stroke-width="1.4"/>
<line x1="432.4" y1="72.3" x2="432.4" y2="151.7" stroke="#111" stroke-width="1.4"/>
<line x1="414.9" y1="151.7" x2="432.4" y2="151.7" stroke="#111" stroke-width="1.4"/>
<polyline points="432.2,80.7 422.3,84.7 422.3,101.5 432.2,105.4" fill="none" stroke="#111" stroke-width="1.2" stroke-linejoin="round"/>
<line x1="414.9" y1="84.7" x2="422.3" y2="88.1" stroke="#111" stroke-width="1.2"/>
<line x1="415.4" y1="101.5" x2="422.3" y2="97.5" stroke="#111" stroke-width="1.2"/>
<path d="M420.5,78.5 L424.3,70.9 L427.5,78.5 M417.5,76.8 H430" fill="none" stroke="#111" stroke-width="1.6"/>
<circle cx="418.8" cy="76.8" r="1.9" fill="#111"/><circle cx="427.7" cy="76.8" r="1.9" fill="#111"/>
<circle cx="419.7" cy="146.1" r="1.8" fill="#111"/><circle cx="427.2" cy="146.1" r="1.8" fill="#111"/>
<line x1="417.5" y1="148.3" x2="429.9" y2="148.3" stroke="#111" stroke-width="1.3"/>
<line x1="434.0" y1="65.0" x2="484.0" y2="65.0" stroke="#333" stroke-width="1.0"/>
<line x1="438.3" y1="72.4" x2="463.5" y2="72.4" stroke="#333" stroke-width="1.0"/>
<line x1="432.8" y1="84.0" x2="463.5" y2="84.0" stroke="#333" stroke-width="1.0"/>
<line x1="428.2" y1="101.5" x2="463.5" y2="101.5" stroke="#333" stroke-width="1.0"/>
<line x1="436.5" y1="146.3" x2="447.2" y2="146.3" stroke="#333" stroke-width="1.0"/>
<line x1="432.4" y1="151.7" x2="482.7" y2="151.7" stroke="#333" stroke-width="1.0"/>
<line x1="461.8" y1="63.3" x2="461.8" y2="154.6" stroke="#333" stroke-width="1.0"/>
<line x1="480.4" y1="63.3" x2="480.4" y2="154.6" stroke="#333" stroke-width="1.0"/>
<line x1="446.0" y1="138.0" x2="446.0" y2="157.0" stroke="#333" stroke-width="1.0"/>
<line x1="459.6" y1="67.2" x2="464.0" y2="62.8" stroke="#111" stroke-width="1.1"/>
<line x1="459.6" y1="74.6" x2="464.0" y2="70.2" stroke="#111" stroke-width="1.1"/>
<line x1="459.6" y1="86.2" x2="464.0" y2="81.8" stroke="#111" stroke-width="1.1"/>
<line x1="459.6" y1="103.7" x2="464.0" y2="99.3" stroke="#111" stroke-width="1.1"/>
<line x1="459.6" y1="153.9" x2="464.0" y2="149.5" stroke="#111" stroke-width="1.1"/>
<line x1="477.8" y1="67.6" x2="483.0" y2="62.4" stroke="#111" stroke-width="1.1"/>
<line x1="477.8" y1="154.3" x2="483.0" y2="149.1" stroke="#111" stroke-width="1.1"/>
<line x1="444.0" y1="148.3" x2="448.0" y2="144.3" stroke="#111" stroke-width="1.1"/>
<line x1="444.0" y1="153.7" x2="448.0" y2="149.7" stroke="#111" stroke-width="1.1"/>
<text transform="translate(459.30,61.48) rotate(-90)" x="0" y="0" font-size="12.03" font-weight="normal" textLength="4.16" lengthAdjust="spacingAndGlyphs" fill="#111" stroke="#111" stroke-width="0.5">1</text>
<text transform="translate(459.30,57.33) rotate(-90)" x="0" y="0" font-size="12.03" font-weight="normal" textLength="4.16" lengthAdjust="spacingAndGlyphs" fill="#111" stroke="#111" stroke-width="0.5">3</text>
<text transform="translate(459.30,53.18) rotate(-90)" x="0" y="0" font-size="12.03" font-weight="normal" textLength="4.16" lengthAdjust="spacingAndGlyphs" fill="#111" stroke="#111" stroke-width="0.5">0</text>
<text transform="translate(459.50,80.53) rotate(-90)" x="0" y="0" font-size="10.87" font-weight="normal" textLength="4.23" lengthAdjust="spacingAndGlyphs" fill="#111" stroke="#111" stroke-width="0.5">2</text>
<text transform="translate(459.50,76.17) rotate(-90)" x="0" y="0" font-size="10.87" font-weight="normal" textLength="4.23" lengthAdjust="spacingAndGlyphs" fill="#111" stroke="#111" stroke-width="0.5">0</text>
<text transform="translate(459.50,71.80) rotate(-90)" x="0" y="0" font-size="10.87" font-weight="normal" textLength="4.23" lengthAdjust="spacingAndGlyphs" fill="#111" stroke="#111" stroke-width="0.5">0</text>
<text transform="translate(459.50,99.93) rotate(-90)" x="0" y="0" font-size="10.87" font-weight="normal" textLength="4.62" lengthAdjust="spacingAndGlyphs" fill="#111" stroke="#111" stroke-width="0.5">3</text>
<text transform="translate(459.50,95.06) rotate(-90)" x="0" y="0" font-size="10.87" font-weight="normal" textLength="4.62" lengthAdjust="spacingAndGlyphs" fill="#111" stroke="#111" stroke-width="0.5">0</text>
<text transform="translate(459.50,90.18) rotate(-90)" x="0" y="0" font-size="10.87" font-weight="normal" textLength="4.62" lengthAdjust="spacingAndGlyphs" fill="#111" stroke="#111" stroke-width="0.5">0</text>
<text transform="translate(460.50,135.79) rotate(-90)" x="0" y="0" font-size="12.32" font-weight="normal" textLength="4.82" lengthAdjust="spacingAndGlyphs" fill="#111" stroke="#111" stroke-width="0.5">1</text>
<text transform="translate(460.50,130.80) rotate(-90)" x="0" y="0" font-size="12.32" font-weight="normal" textLength="4.82" lengthAdjust="spacingAndGlyphs" fill="#111" stroke="#111" stroke-width="0.5">3</text>
<text transform="translate(460.50,125.82) rotate(-90)" x="0" y="0" font-size="12.32" font-weight="normal" textLength="4.82" lengthAdjust="spacingAndGlyphs" fill="#111" stroke="#111" stroke-width="0.5">8</text>
<text transform="translate(460.50,120.83) rotate(-90)" x="0" y="0" font-size="12.32" font-weight="normal" textLength="4.82" lengthAdjust="spacingAndGlyphs" fill="#111" stroke="#111" stroke-width="0.5">0</text>
<text transform="translate(477.60,128.79) rotate(-90)" x="0" y="0" font-size="12.17" font-weight="normal" textLength="5.32" lengthAdjust="spacingAndGlyphs" fill="#111" stroke="#111" stroke-width="0.5">2</text>
<text transform="translate(477.60,123.14) rotate(-90)" x="0" y="0" font-size="12.17" font-weight="normal" textLength="5.32" lengthAdjust="spacingAndGlyphs" fill="#111" stroke="#111" stroke-width="0.5">0</text>
<text transform="translate(477.60,117.48) rotate(-90)" x="0" y="0" font-size="12.17" font-weight="normal" textLength="5.32" lengthAdjust="spacingAndGlyphs" fill="#111" stroke="#111" stroke-width="0.5">3</text>
<text transform="translate(477.60,111.83) rotate(-90)" x="0" y="0" font-size="12.17" font-weight="normal" textLength="5.32" lengthAdjust="spacingAndGlyphs" fill="#111" stroke="#111" stroke-width="0.5">0</text>
<text transform="translate(443.50,161.21) rotate(-90)" x="0" y="0" font-size="10.14" font-weight="normal" textLength="3.90" lengthAdjust="spacingAndGlyphs" fill="#111" stroke="#111" stroke-width="0.5">4</text>
<text transform="translate(443.50,157.19) rotate(-90)" x="0" y="0" font-size="10.14" font-weight="normal" textLength="3.90" lengthAdjust="spacingAndGlyphs" fill="#111" stroke="#111" stroke-width="0.5">0</text>
<text x="415.89" y="168.30" font-size="10.29" font-weight="normal" textLength="5.10" lengthAdjust="spacingAndGlyphs" fill="#111" stroke="#111" stroke-width="0.5">3</text>
<text x="421.45" y="168.30" font-size="10.29" font-weight="normal" textLength="5.10" lengthAdjust="spacingAndGlyphs" fill="#111" stroke="#111" stroke-width="0.5">0</text>
<text x="427.01" y="168.30" font-size="10.29" font-weight="normal" textLength="5.10" lengthAdjust="spacingAndGlyphs" fill="#111" stroke="#111" stroke-width="0.5">0</text>
<line x1="412.8" y1="170.7" x2="434.1" y2="170.7" stroke="#333" stroke-width="1.0"/>
<line x1="415.2" y1="151.7" x2="415.2" y2="173.5" stroke="#333" stroke-width="1.0"/>
<line x1="432.5" y1="151.7" x2="432.5" y2="173.5" stroke="#333" stroke-width="1.0"/>
<line x1="413.0" y1="172.9" x2="417.4" y2="168.5" stroke="#111" stroke-width="1.1"/>
<line x1="430.3" y1="172.9" x2="434.7" y2="168.5" stroke="#111" stroke-width="1.1"/>
<text x="413.88" y="219.00" font-size="17.97" font-weight="normal" textLength="8.54" lengthAdjust="spacingAndGlyphs" fill="#111" stroke="#111" stroke-width="0.2">3</text>
<line x1="428.8" y1="213.7" x2="436.8" y2="213.7" stroke="#111" stroke-width="1.4"/>
<text x="440.58" y="219.00" font-size="17.97" font-weight="normal" textLength="8.54" lengthAdjust="spacingAndGlyphs" fill="#111" stroke="#111" stroke-width="0.2">3</text>
<line x1="409.2" y1="222.6" x2="460.9" y2="222.6" stroke="#111" stroke-width="1.6"/>
<polyline points="414.1,349.6 414.1,263.0 416.0,260.5 431.1,260.5 431.1,269.6 421.6,272.0 421.6,289.0 431.1,293.7 431.1,349.6 414.1,349.6" fill="none" stroke="#111" stroke-width="1.4" stroke-linejoin="round"/>
<line x1="414.1" y1="273.6" x2="421.6" y2="277.5" stroke="#111" stroke-width="1.2"/>
<line x1="414.1" y1="288.2" x2="420.8" y2="286.2" stroke="#111" stroke-width="1.2"/>
<line x1="417.0" y1="264.9" x2="428.7" y2="264.9" stroke="#111" stroke-width="1.8"/>
<circle cx="420.8" cy="266.7" r="2.0" fill="#111"/><circle cx="426.3" cy="266.5" r="2.0" fill="#111"/>
<circle cx="418.8" cy="345" r="1.8" fill="#111"/><circle cx="425.3" cy="345" r="1.8" fill="#111"/>
<line x1="416.4" y1="347.6" x2="428.7" y2="347.6" stroke="#111" stroke-width="1.3"/>
<line x1="435.0" y1="260.9" x2="482.2" y2="260.9" stroke="#333" stroke-width="1.0"/>
<line x1="428.8" y1="273.3" x2="463.5" y2="273.3" stroke="#333" stroke-width="1.0"/>
<line x1="431.1" y1="288.0" x2="463.5" y2="288.0" stroke="#333" stroke-width="1.0"/>
<line x1="436.5" y1="344.3" x2="447.0" y2="344.3" stroke="#333" stroke-width="1.0"/>
<line x1="431.1" y1="349.6" x2="482.7" y2="349.6" stroke="#333" stroke-width="1.0"/>
<line x1="461.4" y1="258.0" x2="461.4" y2="352.0" stroke="#333" stroke-width="1.0"/>
<line x1="480.2" y1="258.0" x2="480.2" y2="352.0" stroke="#333" stroke-width="1.0"/>
<line x1="446.0" y1="338.0" x2="446.0" y2="356.0" stroke="#333" stroke-width="1.0"/>
<line x1="459.2" y1="263.7" x2="463.6" y2="259.3" stroke="#111" stroke-width="1.1"/>
<line x1="459.2" y1="276.2" x2="463.6" y2="271.8" stroke="#111" stroke-width="1.1"/>
<line x1="459.2" y1="291.2" x2="463.6" y2="286.8" stroke="#111" stroke-width="1.1"/>
<line x1="459.2" y1="351.8" x2="463.6" y2="347.4" stroke="#111" stroke-width="1.1"/>
<line x1="477.6" y1="263.5" x2="482.8" y2="258.3" stroke="#111" stroke-width="1.1"/>
<line x1="477.6" y1="352.2" x2="482.8" y2="347.0" stroke="#111" stroke-width="1.1"/>
<line x1="444.0" y1="346.3" x2="448.0" y2="342.3" stroke="#111" stroke-width="1.1"/>
<line x1="444.0" y1="351.6" x2="448.0" y2="347.6" stroke="#111" stroke-width="1.1"/>
<text transform="translate(459.20,264.26) rotate(-90)" x="0" y="0" font-size="11.59" font-weight="normal" textLength="3.23" lengthAdjust="spacingAndGlyphs" fill="#111" stroke="#111" stroke-width="0.5">1</text>
<text transform="translate(459.20,261.27) rotate(-90)" x="0" y="0" font-size="11.59" font-weight="normal" textLength="3.23" lengthAdjust="spacingAndGlyphs" fill="#111" stroke="#111" stroke-width="0.5">3</text>
<text transform="translate(459.20,258.27) rotate(-90)" x="0" y="0" font-size="11.59" font-weight="normal" textLength="3.23" lengthAdjust="spacingAndGlyphs" fill="#111" stroke="#111" stroke-width="0.5">0</text>
<text transform="translate(459.20,273.96) rotate(-90)" x="0" y="0" font-size="11.59" font-weight="normal" textLength="3.43" lengthAdjust="spacingAndGlyphs" fill="#111" stroke="#111" stroke-width="0.5">2</text>
<text transform="translate(459.20,270.71) rotate(-90)" x="0" y="0" font-size="11.59" font-weight="normal" textLength="3.43" lengthAdjust="spacingAndGlyphs" fill="#111" stroke="#111" stroke-width="0.5">0</text>
<text transform="translate(459.20,267.46) rotate(-90)" x="0" y="0" font-size="11.59" font-weight="normal" textLength="3.43" lengthAdjust="spacingAndGlyphs" fill="#111" stroke="#111" stroke-width="0.5">0</text>
<text transform="translate(459.20,288.66) rotate(-90)" x="0" y="0" font-size="11.59" font-weight="normal" textLength="4.18" lengthAdjust="spacingAndGlyphs" fill="#111" stroke="#111" stroke-width="0.5">3</text>
<text transform="translate(459.20,284.44) rotate(-90)" x="0" y="0" font-size="11.59" font-weight="normal" textLength="4.18" lengthAdjust="spacingAndGlyphs" fill="#111" stroke="#111" stroke-width="0.5">0</text>
<text transform="translate(459.20,280.21) rotate(-90)" x="0" y="0" font-size="11.59" font-weight="normal" textLength="4.18" lengthAdjust="spacingAndGlyphs" fill="#111" stroke="#111" stroke-width="0.5">0</text>
<text transform="translate(459.60,331.29) rotate(-90)" x="0" y="0" font-size="12.17" font-weight="normal" textLength="5.01" lengthAdjust="spacingAndGlyphs" fill="#111" stroke="#111" stroke-width="0.5">1</text>
<text transform="translate(459.60,326.03) rotate(-90)" x="0" y="0" font-size="12.17" font-weight="normal" textLength="5.01" lengthAdjust="spacingAndGlyphs" fill="#111" stroke="#111" stroke-width="0.5">3</text>
<text transform="translate(459.60,320.78) rotate(-90)" x="0" y="0" font-size="12.17" font-weight="normal" textLength="5.01" lengthAdjust="spacingAndGlyphs" fill="#111" stroke="#111" stroke-width="0.5">8</text>
<text transform="translate(459.60,315.53) rotate(-90)" x="0" y="0" font-size="12.17" font-weight="normal" textLength="5.01" lengthAdjust="spacingAndGlyphs" fill="#111" stroke="#111" stroke-width="0.5">0</text>
<text transform="translate(477.40,318.28) rotate(-90)" x="0" y="0" font-size="11.88" font-weight="normal" textLength="4.79" lengthAdjust="spacingAndGlyphs" fill="#111" stroke="#111" stroke-width="0.5">1</text>
<text transform="translate(477.40,313.29) rotate(-90)" x="0" y="0" font-size="11.88" font-weight="normal" textLength="4.79" lengthAdjust="spacingAndGlyphs" fill="#111" stroke="#111" stroke-width="0.5">9</text>
<text transform="translate(477.40,308.30) rotate(-90)" x="0" y="0" font-size="11.88" font-weight="normal" textLength="4.79" lengthAdjust="spacingAndGlyphs" fill="#111" stroke="#111" stroke-width="0.5">0</text>
<text transform="translate(477.40,303.31) rotate(-90)" x="0" y="0" font-size="11.88" font-weight="normal" textLength="4.79" lengthAdjust="spacingAndGlyphs" fill="#111" stroke="#111" stroke-width="0.5">0</text>
<text transform="translate(443.50,362.03) rotate(-90)" x="0" y="0" font-size="10.87" font-weight="normal" textLength="4.52" lengthAdjust="spacingAndGlyphs" fill="#111" stroke="#111" stroke-width="0.5">4</text>
<text transform="translate(443.50,357.29) rotate(-90)" x="0" y="0" font-size="10.87" font-weight="normal" textLength="4.52" lengthAdjust="spacingAndGlyphs" fill="#111" stroke="#111" stroke-width="0.5">0</text>
<text x="415.48" y="367.30" font-size="12.90" font-weight="normal" textLength="4.70" lengthAdjust="spacingAndGlyphs" fill="#111" stroke="#111" stroke-width="0.5">3</text>
<text x="420.25" y="367.30" font-size="12.90" font-weight="normal" textLength="4.70" lengthAdjust="spacingAndGlyphs" fill="#111" stroke="#111" stroke-width="0.5">0</text>
<text x="425.02" y="367.30" font-size="12.90" font-weight="normal" textLength="4.70" lengthAdjust="spacingAndGlyphs" fill="#111" stroke="#111" stroke-width="0.5">0</text>
<line x1="412.6" y1="370.5" x2="434.0" y2="370.5" stroke="#333" stroke-width="1.0"/>
<line x1="415.0" y1="349.6" x2="415.0" y2="373.0" stroke="#333" stroke-width="1.0"/>
<line x1="431.1" y1="349.6" x2="431.1" y2="373.0" stroke="#333" stroke-width="1.0"/>
<line x1="412.8" y1="372.7" x2="417.2" y2="368.3" stroke="#111" stroke-width="1.1"/>
<line x1="428.9" y1="372.7" x2="433.3" y2="368.3" stroke="#111" stroke-width="1.1"/>
<text x="573.00" y="51.50" font-size="12.61" font-weight="normal" textLength="6.21" lengthAdjust="spacingAndGlyphs" fill="#111" stroke="#111" stroke-width="0.5">Ц</text>
<text x="583.71" y="50.80" font-size="9.71" font-weight="normal" textLength="3.98" lengthAdjust="spacingAndGlyphs" fill="#111" stroke="#111" stroke-width="0.5">Р</text>
<text x="590.05" y="51.80" font-size="11.16" font-weight="normal" textLength="6.69" lengthAdjust="spacingAndGlyphs" fill="#111" stroke="#111" stroke-width="0.5">2</text>
<text x="598.81" y="51.50" font-size="9.86" font-weight="normal" textLength="4.99" lengthAdjust="spacingAndGlyphs" fill="#111" stroke="#111" stroke-width="0.5">Л</text>
<line x1="606.0" y1="48.6" x2="609.8" y2="48.6" stroke="#111" stroke-width="1.4"/>
<text x="613.11" y="51.50" font-size="12.17" font-weight="normal" textLength="5.17" lengthAdjust="spacingAndGlyphs" fill="#111" stroke="#111" stroke-width="0.5">3</text>
<text x="618.38" y="51.80" font-size="13.04" font-weight="normal" textLength="6.74" lengthAdjust="spacingAndGlyphs" fill="#111" stroke="#111" stroke-width="0.5">Ч</text>
<text x="636.04" y="51.50" font-size="11.59" font-weight="normal" textLength="5.73" lengthAdjust="spacingAndGlyphs" fill="#111" stroke="#111" stroke-width="0.5">2</text>
<text x="643.75" y="51.50" font-size="11.16" font-weight="normal" textLength="4.39" lengthAdjust="spacingAndGlyphs" fill="#111" stroke="#111" stroke-width="0.5">0</text>
<text x="652.72" y="51.80" font-size="12.03" font-weight="normal" textLength="5.46" lengthAdjust="spacingAndGlyphs" fill="#111" stroke="#111" stroke-width="0.5">3</text>
<line x1="572.0" y1="55.1" x2="670.2" y2="55.3" stroke="#111" stroke-width="1.4"/>
<circle cx="560.9" cy="58.5" r="12.0" fill="none" stroke="#111" stroke-width="1.1"/>
<line x1="548.9" y1="58.5" x2="572.9" y2="58.5" stroke="#111" stroke-width="1.0"/>
<line x1="572.9" y1="58.5" x2="602.7" y2="58.5" stroke="#333" stroke-width="1.0"/>
<text x="556.51" y="57.20" font-size="9.86" font-weight="normal" textLength="4.27" lengthAdjust="spacingAndGlyphs" fill="#111" stroke="#111" stroke-width="0.5">1</text>
<text x="561.03" y="57.20" font-size="9.86" font-weight="normal" textLength="4.27" lengthAdjust="spacingAndGlyphs" fill="#111" stroke="#111" stroke-width="0.5">3</text>
<text x="556.51" y="67.00" font-size="9.86" font-weight="normal" textLength="4.27" lengthAdjust="spacingAndGlyphs" fill="#111" stroke="#111" stroke-width="0.5">1</text>
<text x="561.03" y="67.00" font-size="9.86" font-weight="normal" textLength="4.27" lengthAdjust="spacingAndGlyphs" fill="#111" stroke="#111" stroke-width="0.5">2</text>
<line x1="602.7" y1="58.5" x2="602.7" y2="72.5" stroke="#111" stroke-width="1.0"/>
<circle cx="541.3" cy="83.3" r="12.5" fill="none" stroke="#111" stroke-width="1.1"/>
<line x1="528.8" y1="83.3" x2="553.8" y2="83.3" stroke="#111" stroke-width="1.0"/>
<line x1="553.8" y1="83.3" x2="567.4" y2="83.3" stroke="#333" stroke-width="1.0"/>
<text x="538.31" y="82.00" font-size="12.17" font-weight="normal" textLength="5.97" lengthAdjust="spacingAndGlyphs" fill="#111" stroke="#111" stroke-width="0.5">1</text>
<text x="537.06" y="93.40" font-size="12.17" font-weight="normal" textLength="8.47" lengthAdjust="spacingAndGlyphs" fill="#111" stroke="#111" stroke-width="0.5">4</text>
<line x1="567.4" y1="83.3" x2="583.7" y2="77.6" stroke="#333" stroke-width="1.0"/>
<circle cx="561.1" cy="107.1" r="12.3" fill="none" stroke="#111" stroke-width="1.1"/>
<line x1="548.8" y1="107.1" x2="573.4" y2="107.1" stroke="#111" stroke-width="1.0"/>
<text x="556.61" y="105.80" font-size="12.17" font-weight="normal" textLength="4.45" lengthAdjust="spacingAndGlyphs" fill="#111" stroke="#111" stroke-width="0.5">1</text>
<text x="561.13" y="105.80" font-size="12.17" font-weight="normal" textLength="4.45" lengthAdjust="spacingAndGlyphs" fill="#111" stroke="#111" stroke-width="0.5">5</text>
<text x="556.61" y="117.20" font-size="12.17" font-weight="normal" textLength="4.45" lengthAdjust="spacingAndGlyphs" fill="#111" stroke="#111" stroke-width="0.5">1</text>
<text x="561.13" y="117.20" font-size="12.17" font-weight="normal" textLength="4.45" lengthAdjust="spacingAndGlyphs" fill="#111" stroke="#111" stroke-width="0.5">3</text>
<line x1="574.0" y1="105.8" x2="616.4" y2="86.6" stroke="#333" stroke-width="1.0"/>
<circle cx="553.3" cy="140.7" r="12.4" fill="none" stroke="#111" stroke-width="1.1"/>
<line x1="540.9" y1="140.7" x2="565.7" y2="140.7" stroke="#111" stroke-width="1.0"/>
<line x1="565.7" y1="140.7" x2="567.4" y2="140.7" stroke="#333" stroke-width="1.0"/>
<text x="550.31" y="139.40" font-size="12.17" font-weight="normal" textLength="5.97" lengthAdjust="spacingAndGlyphs" fill="#111" stroke="#111" stroke-width="0.5">2</text>
<text x="549.06" y="150.80" font-size="12.17" font-weight="normal" textLength="8.47" lengthAdjust="spacingAndGlyphs" fill="#111" stroke="#111" stroke-width="0.5">4</text>
<line x1="567.4" y1="140.7" x2="583.7" y2="125.4" stroke="#333" stroke-width="1.0"/>
<circle cx="696.1" cy="54.3" r="11.9" fill="none" stroke="#111" stroke-width="1.1"/>
<line x1="684.2" y1="54.3" x2="708.0" y2="54.3" stroke="#111" stroke-width="1.0"/>
<line x1="683.6" y1="54.3" x2="684.2" y2="54.3" stroke="#333" stroke-width="1.0"/>
<text x="693.11" y="53.00" font-size="12.17" font-weight="normal" textLength="5.97" lengthAdjust="spacingAndGlyphs" fill="#111" stroke="#111" stroke-width="0.5">3</text>
<text x="693.11" y="64.40" font-size="12.17" font-weight="normal" textLength="5.97" lengthAdjust="spacingAndGlyphs" fill="#111" stroke="#111" stroke-width="0.5">6</text>
<line x1="683.6" y1="54.3" x2="671.1" y2="66.8" stroke="#333" stroke-width="1.0"/>
<circle cx="697.4" cy="140.5" r="12.3" fill="none" stroke="#111" stroke-width="1.1"/>
<line x1="685.1" y1="140.5" x2="709.7" y2="140.5" stroke="#111" stroke-width="1.0"/>
<line x1="685.8" y1="140.5" x2="685.1" y2="140.5" stroke="#333" stroke-width="1.0"/>
<text x="694.41" y="139.20" font-size="12.17" font-weight="normal" textLength="5.97" lengthAdjust="spacingAndGlyphs" fill="#111" stroke="#111" stroke-width="0.5">4</text>
<text x="694.41" y="150.60" font-size="12.17" font-weight="normal" textLength="5.97" lengthAdjust="spacingAndGlyphs" fill="#111" stroke="#111" stroke-width="0.5">6</text>
<line x1="685.8" y1="140.5" x2="674.2" y2="123.8" stroke="#333" stroke-width="1.0"/>
<polyline points="583.5,122.6 583.5,69.3 670.1,69.3 672.1,73.5 672.1,122.6 583.5,122.6" fill="none" stroke="#111" stroke-width="1.4" stroke-linejoin="round"/>
<line x1="583.5" y1="74.5" x2="672.1" y2="74.5" stroke="#111" stroke-width="1.2"/>
<line x1="604.7" y1="69.3" x2="604.7" y2="74.5" stroke="#111" stroke-width="1.2"/>
<line x1="643.2" y1="69.3" x2="643.2" y2="74.5" stroke="#111" stroke-width="1.2"/>
<line x1="589.0" y1="84.2" x2="589.0" y2="121.7" stroke="#111" stroke-width="1.2"/>
<line x1="657.6" y1="74.5" x2="657.6" y2="122.6" stroke="#111" stroke-width="1.2"/>
<line x1="588.1" y1="76.3" x2="593.0" y2="76.3" stroke="#111" stroke-width="0.9"/>
<line x1="588.1" y1="78.4" x2="593.0" y2="78.4" stroke="#111" stroke-width="0.9"/>
<line x1="588.1" y1="80.5" x2="593.0" y2="80.5" stroke="#111" stroke-width="0.9"/>
<polyline points="593.0,75.0 593.0,80.5 589.3,84.2" fill="none" stroke="#111" stroke-width="1.0" stroke-linejoin="round"/>
<line x1="660.5" y1="77.7" x2="669.2" y2="77.7" stroke="#111" stroke-width="1.0"/>
<line x1="660.5" y1="80.3" x2="669.2" y2="80.3" stroke="#111" stroke-width="1.0"/>
<rect x="616.2" y="80.6" width="16.4" height="8.9" fill="none" stroke="#111" stroke-width="1.3"/>
<line x1="672.0" y1="69.3" x2="714.4" y2="69.3" stroke="#333" stroke-width="1.0"/>
<line x1="672.0" y1="122.6" x2="714.4" y2="122.6" stroke="#333" stroke-width="1.0"/>
<line x1="711.9" y1="66.8" x2="711.9" y2="125.5" stroke="#333" stroke-width="1.0"/>
<line x1="709.3" y1="71.9" x2="714.5" y2="66.7" stroke="#111" stroke-width="1.1"/>
<line x1="709.3" y1="125.2" x2="714.5" y2="120.0" stroke="#111" stroke-width="1.1"/>
<text transform="translate(709.30,105.68) rotate(-90)" x="0" y="0" font-size="12.03" font-weight="normal" textLength="5.27" lengthAdjust="spacingAndGlyphs" fill="#111" stroke="#111" stroke-width="0.5">2</text>
<text transform="translate(709.30,100.08) rotate(-90)" x="0" y="0" font-size="12.03" font-weight="normal" textLength="5.27" lengthAdjust="spacingAndGlyphs" fill="#111" stroke="#111" stroke-width="0.5">0</text>
<text transform="translate(709.30,94.49) rotate(-90)" x="0" y="0" font-size="12.03" font-weight="normal" textLength="5.27" lengthAdjust="spacingAndGlyphs" fill="#111" stroke="#111" stroke-width="0.5">3</text>
<text transform="translate(709.30,88.89) rotate(-90)" x="0" y="0" font-size="12.03" font-weight="normal" textLength="5.27" lengthAdjust="spacingAndGlyphs" fill="#111" stroke="#111" stroke-width="0.5">0</text>
<line x1="584.5" y1="122.6" x2="584.5" y2="148.3" stroke="#333" stroke-width="1.0"/>
<line x1="673.3" y1="122.6" x2="673.3" y2="148.3" stroke="#333" stroke-width="1.0"/>
<line x1="581.7" y1="142.6" x2="676.8" y2="143.2" stroke="#333" stroke-width="1.0"/>
<line x1="581.7" y1="145.3" x2="586.9" y2="140.1" stroke="#111" stroke-width="1.1"/>
<line x1="670.9" y1="145.7" x2="676.1" y2="140.5" stroke="#111" stroke-width="1.1"/>
<text x="617.38" y="141.40" font-size="10.43" font-weight="normal" textLength="5.51" lengthAdjust="spacingAndGlyphs" fill="#111" stroke="#111" stroke-width="0.5">3</text>
<text x="623.46" y="141.40" font-size="10.43" font-weight="normal" textLength="5.51" lengthAdjust="spacingAndGlyphs" fill="#111" stroke="#111" stroke-width="0.5">3</text>
<text x="629.53" y="141.40" font-size="10.43" font-weight="normal" textLength="5.51" lengthAdjust="spacingAndGlyphs" fill="#111" stroke="#111" stroke-width="0.5">9</text>
<text x="635.61" y="141.40" font-size="10.43" font-weight="normal" textLength="5.51" lengthAdjust="spacingAndGlyphs" fill="#111" stroke="#111" stroke-width="0.5">5</text>
<text x="568.47" y="172.90" font-size="10.72" font-weight="normal" textLength="6.56" lengthAdjust="spacingAndGlyphs" fill="#111" stroke="#111" stroke-width="0.5">Ц</text>
<text x="578.09" y="172.90" font-size="10.29" font-weight="normal" textLength="4.32" lengthAdjust="spacingAndGlyphs" fill="#111" stroke="#111" stroke-width="0.5">Р</text>
<text x="583.89" y="173.20" font-size="10.29" font-weight="normal" textLength="7.22" lengthAdjust="spacingAndGlyphs" fill="#111" stroke="#111" stroke-width="0.5">2</text>
<text x="592.34" y="173.20" font-size="6.52" font-weight="normal" textLength="4.72" lengthAdjust="spacingAndGlyphs" fill="#111" stroke="#111" stroke-width="0.5">Л</text>
<line x1="597.7" y1="170.6" x2="601.6" y2="170.6" stroke="#111" stroke-width="1.4"/>
<text x="605.62" y="173.50" font-size="12.03" font-weight="normal" textLength="5.76" lengthAdjust="spacingAndGlyphs" fill="#111" stroke="#111" stroke-width="0.5">3</text>
<text x="612.22" y="173.50" font-size="12.03" font-weight="normal" textLength="6.46" lengthAdjust="spacingAndGlyphs" fill="#111" stroke="#111" stroke-width="0.5">Ч</text>
<text x="627.94" y="173.50" font-size="11.59" font-weight="normal" textLength="3.23" lengthAdjust="spacingAndGlyphs" fill="#111" stroke="#111" stroke-width="0.5">1</text>
<text x="632.14" y="173.50" font-size="11.59" font-weight="normal" textLength="5.43" lengthAdjust="spacingAndGlyphs" fill="#111" stroke="#111" stroke-width="0.5">9</text>
<text x="644.04" y="173.50" font-size="11.59" font-weight="normal" textLength="5.73" lengthAdjust="spacingAndGlyphs" fill="#111" stroke="#111" stroke-width="0.5">3</text>
<line x1="568.5" y1="177.6" x2="657.5" y2="177.7" stroke="#111" stroke-width="1.5"/>
<circle cx="550.9" cy="186.3" r="12.3" fill="none" stroke="#111" stroke-width="1.1"/>
<line x1="538.6" y1="186.3" x2="563.2" y2="186.3" stroke="#111" stroke-width="1.0"/>
<line x1="563.2" y1="186.3" x2="606.7" y2="186.3" stroke="#333" stroke-width="1.0"/>
<text x="546.41" y="185.00" font-size="12.17" font-weight="normal" textLength="4.45" lengthAdjust="spacingAndGlyphs" fill="#111" stroke="#111" stroke-width="0.5">1</text>
<text x="550.93" y="185.00" font-size="12.17" font-weight="normal" textLength="4.45" lengthAdjust="spacingAndGlyphs" fill="#111" stroke="#111" stroke-width="0.5">4</text>
<text x="546.41" y="196.40" font-size="12.17" font-weight="normal" textLength="4.45" lengthAdjust="spacingAndGlyphs" fill="#111" stroke="#111" stroke-width="0.5">1</text>
<text x="550.93" y="196.40" font-size="12.17" font-weight="normal" textLength="4.45" lengthAdjust="spacingAndGlyphs" fill="#111" stroke="#111" stroke-width="0.5">2</text>
<line x1="607.0" y1="182.0" x2="607.0" y2="190.2" stroke="#111" stroke-width="1.8"/>
<line x1="643.7" y1="184.0" x2="643.7" y2="190.2" stroke="#111" stroke-width="1.8"/>
<polyline points="584.7,232.0 584.7,190.2 673.5,190.2 673.5,232.0 584.7,232.0" fill="none" stroke="#111" stroke-width="1.4" stroke-linejoin="round"/>
<line x1="590.9" y1="200.2" x2="590.9" y2="232.0" stroke="#111" stroke-width="1.2"/>
<line x1="658.6" y1="190.2" x2="658.6" y2="232.0" stroke="#111" stroke-width="1.2"/>
<line x1="587.8" y1="192.2" x2="593.9" y2="192.2" stroke="#111" stroke-width="0.9"/>
<line x1="587.8" y1="193.9" x2="593.9" y2="193.9" stroke="#111" stroke-width="0.9"/>
<line x1="587.8" y1="195.9" x2="593.9" y2="195.9" stroke="#111" stroke-width="0.9"/>
<polyline points="593.9,191.0 593.9,198.2 590.9,200.2" fill="none" stroke="#111" stroke-width="1.0" stroke-linejoin="round"/>
<line x1="661.9" y1="192.8" x2="670.0" y2="192.8" stroke="#111" stroke-width="1.0"/>
<line x1="661.9" y1="196.4" x2="670.0" y2="196.4" stroke="#111" stroke-width="1.0"/>
<rect x="617.5" y="195.6" width="15.5" height="9.9" fill="none" stroke="#111" stroke-width="1.3"/>
<circle cx="563.8" cy="215.3" r="12.4" fill="none" stroke="#111" stroke-width="1.1"/>
<line x1="551.4" y1="215.3" x2="576.2" y2="215.3" stroke="#111" stroke-width="1.0"/>
<text x="559.31" y="214.00" font-size="12.17" font-weight="normal" textLength="8.97" lengthAdjust="spacingAndGlyphs" fill="#111" stroke="#111" stroke-width="0.5">1б</text>
<text x="560.81" y="225.40" font-size="12.17" font-weight="normal" textLength="5.97" lengthAdjust="spacingAndGlyphs" fill="#111" stroke="#111" stroke-width="0.5">5</text>
<line x1="576.2" y1="213.4" x2="585.0" y2="203.3" stroke="#333" stroke-width="1.0"/>
<circle cx="544.8" cy="238.4" r="12.4" fill="none" stroke="#111" stroke-width="1.1"/>
<line x1="532.4" y1="238.4" x2="557.2" y2="238.4" stroke="#111" stroke-width="1.0"/>
<text x="540.31" y="237.10" font-size="12.17" font-weight="normal" textLength="4.45" lengthAdjust="spacingAndGlyphs" fill="#111" stroke="#111" stroke-width="0.5">1</text>
<text x="544.83" y="237.10" font-size="12.17" font-weight="normal" textLength="4.45" lengthAdjust="spacingAndGlyphs" fill="#111" stroke="#111" stroke-width="0.5">5</text>
<text x="540.31" y="248.50" font-size="12.17" font-weight="normal" textLength="4.45" lengthAdjust="spacingAndGlyphs" fill="#111" stroke="#111" stroke-width="0.5">1</text>
<text x="544.83" y="248.50" font-size="12.17" font-weight="normal" textLength="4.45" lengthAdjust="spacingAndGlyphs" fill="#111" stroke="#111" stroke-width="0.5">3</text>
<line x1="556.6" y1="237.5" x2="617.0" y2="202.9" stroke="#333" stroke-width="1.0"/>
<circle cx="566.0" cy="253.2" r="12.4" fill="none" stroke="#111" stroke-width="1.1"/>
<line x1="553.6" y1="253.2" x2="578.4" y2="253.2" stroke="#111" stroke-width="1.0"/>
<line x1="578.4" y1="253.2" x2="579.0" y2="253.2" stroke="#333" stroke-width="1.0"/>
<text x="563.01" y="251.90" font-size="12.17" font-weight="normal" textLength="5.97" lengthAdjust="spacingAndGlyphs" fill="#111" stroke="#111" stroke-width="0.5">2</text>
<text x="561.76" y="263.30" font-size="12.17" font-weight="normal" textLength="8.47" lengthAdjust="spacingAndGlyphs" fill="#111" stroke="#111" stroke-width="0.5">4</text>
<polyline points="579.0,252.6 588.0,244.9 586.8,232.0" fill="none" stroke="#333" stroke-width="1.0" stroke-linejoin="round"/>
<circle cx="692.0" cy="176.8" r="12.3" fill="none" stroke="#111" stroke-width="1.1"/>
<line x1="679.7" y1="176.8" x2="704.3" y2="176.8" stroke="#111" stroke-width="1.0"/>
<line x1="679.2" y1="176.8" x2="679.7" y2="176.8" stroke="#333" stroke-width="1.0"/>
<text x="687.51" y="175.50" font-size="12.17" font-weight="normal" textLength="8.97" lengthAdjust="spacingAndGlyphs" fill="#111" stroke="#111" stroke-width="0.5">3б</text>
<text x="689.01" y="186.90" font-size="12.17" font-weight="normal" textLength="5.97" lengthAdjust="spacingAndGlyphs" fill="#111" stroke="#111" stroke-width="0.5">5</text>
<line x1="679.2" y1="176.8" x2="671.5" y2="188.4" stroke="#333" stroke-width="1.0"/>
<circle cx="697.5" cy="255.5" r="12.4" fill="none" stroke="#111" stroke-width="1.1"/>
<line x1="685.1" y1="255.5" x2="709.9" y2="255.5" stroke="#111" stroke-width="1.0"/>
<line x1="679.3" y1="255.5" x2="685.1" y2="255.5" stroke="#333" stroke-width="1.0"/>
<text x="693.76" y="254.20" font-size="12.17" font-weight="normal" textLength="7.47" lengthAdjust="spacingAndGlyphs" fill="#111" stroke="#111" stroke-width="0.5">4</text>
<text x="694.51" y="265.60" font-size="12.17" font-weight="normal" textLength="5.97" lengthAdjust="spacingAndGlyphs" fill="#111" stroke="#111" stroke-width="0.5">6</text>
<polyline points="679.3,255.5 674.5,240.0 673.5,232.0" fill="none" stroke="#333" stroke-width="1.0" stroke-linejoin="round"/>
<line x1="581.6" y1="250.2" x2="674.0" y2="250.2" stroke="#333" stroke-width="1.0"/>
<line x1="582.1" y1="252.8" x2="587.3" y2="247.6" stroke="#111" stroke-width="1.1"/>
<line x1="670.9" y1="252.8" x2="676.1" y2="247.6" stroke="#111" stroke-width="1.1"/>
<line x1="584.7" y1="232.0" x2="584.7" y2="254.0" stroke="#333" stroke-width="1.0"/>
<line x1="673.5" y1="232.0" x2="673.5" y2="254.0" stroke="#333" stroke-width="1.0"/>
<text x="617.18" y="248.10" font-size="12.90" font-weight="normal" textLength="6.15" lengthAdjust="spacingAndGlyphs" fill="#111" stroke="#111" stroke-width="0.5">3</text>
<text x="623.84" y="248.10" font-size="12.90" font-weight="normal" textLength="6.15" lengthAdjust="spacingAndGlyphs" fill="#111" stroke="#111" stroke-width="0.5">3</text>
<text x="630.50" y="248.10" font-size="12.90" font-weight="normal" textLength="6.15" lengthAdjust="spacingAndGlyphs" fill="#111" stroke="#111" stroke-width="0.5">9</text>
<text x="637.16" y="248.10" font-size="12.90" font-weight="normal" textLength="6.15" lengthAdjust="spacingAndGlyphs" fill="#111" stroke="#111" stroke-width="0.5">5</text>
<line x1="673.5" y1="190.2" x2="715.0" y2="190.2" stroke="#333" stroke-width="1.0"/>
<line x1="673.5" y1="232.0" x2="715.0" y2="232.0" stroke="#333" stroke-width="1.0"/>
<line x1="711.3" y1="187.0" x2="711.3" y2="235.0" stroke="#333" stroke-width="1.0"/>
<line x1="708.7" y1="192.8" x2="713.9" y2="187.6" stroke="#111" stroke-width="1.1"/>
<line x1="708.7" y1="234.6" x2="713.9" y2="229.4" stroke="#111" stroke-width="1.1"/>
<text transform="translate(708.00,222.23) rotate(-90)" x="0" y="0" font-size="10.87" font-weight="normal" textLength="5.07" lengthAdjust="spacingAndGlyphs" fill="#111" stroke="#111" stroke-width="0.5">1</text>
<text transform="translate(708.00,216.77) rotate(-90)" x="0" y="0" font-size="10.87" font-weight="normal" textLength="5.07" lengthAdjust="spacingAndGlyphs" fill="#111" stroke="#111" stroke-width="0.5">9</text>
<text transform="translate(708.00,211.30) rotate(-90)" x="0" y="0" font-size="10.87" font-weight="normal" textLength="5.07" lengthAdjust="spacingAndGlyphs" fill="#111" stroke="#111" stroke-width="0.5">0</text>
<text transform="translate(708.00,205.84) rotate(-90)" x="0" y="0" font-size="10.87" font-weight="normal" textLength="5.07" lengthAdjust="spacingAndGlyphs" fill="#111" stroke="#111" stroke-width="0.5">0</text>
</svg>
</body></html>
